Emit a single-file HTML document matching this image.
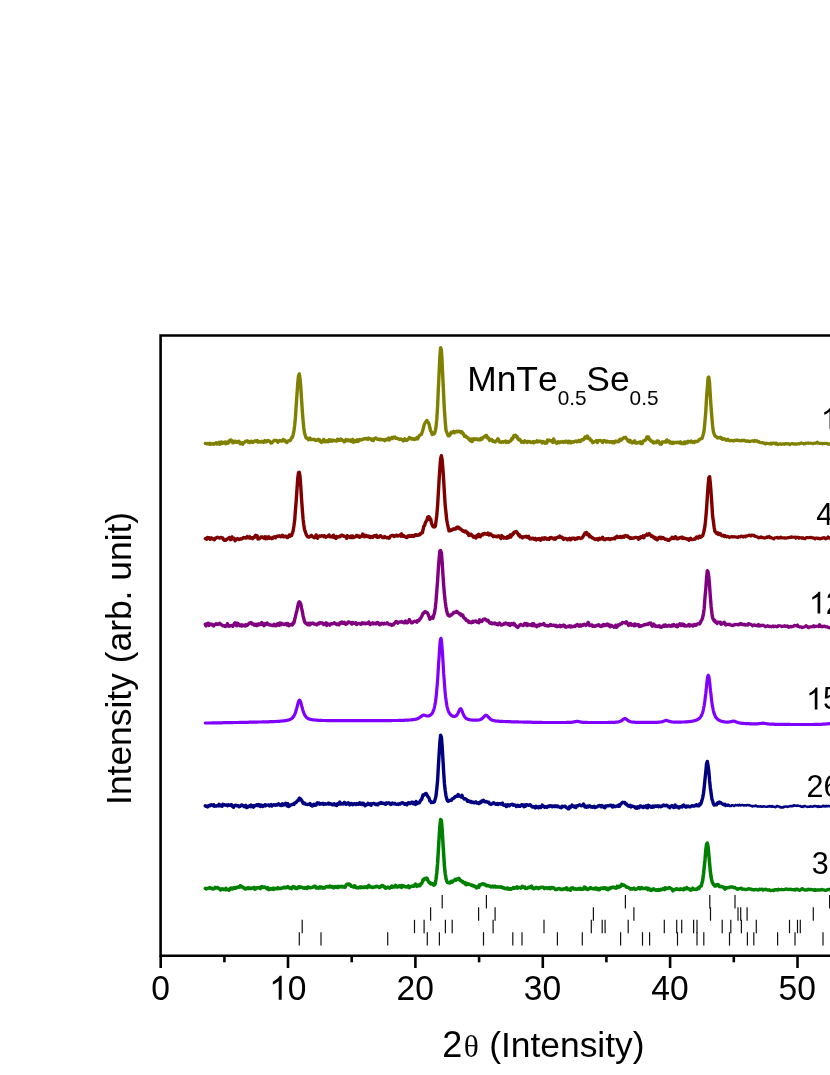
<!DOCTYPE html>
<html><head><meta charset="utf-8"><title>XRD</title>
<style>
html,body{margin:0;padding:0;background:#fff;}
body{width:830px;height:1075px;overflow:hidden;position:relative;font-family:"Liberation Sans",sans-serif;}
svg{position:absolute;left:0;top:0;will-change:transform;}
text{font-family:"Liberation Sans",sans-serif;fill:#000;font-kerning:none;}
.th{font-family:"Liberation Serif",serif;}
</style></head><body>
<svg width="830" height="1075" viewBox="0 0 830 1075">
<rect x="0" y="0" width="830" height="1075" fill="#fff"/>
<g fill="none" stroke-width="3.3" stroke-linejoin="round" stroke-linecap="round">
<polyline stroke="#808000" stroke-width="3.4" points="205.3,443.5 206.0,443.5 206.8,443.8 207.6,443.5 208.3,443.9 209.1,444.0 209.9,443.2 210.6,444.3 211.4,443.8 212.1,443.7 212.9,444.1 213.7,444.2 214.4,443.7 215.2,443.9 216.0,442.7 216.7,444.1 217.5,443.9 218.3,443.3 219.0,442.4 219.8,444.3 220.6,442.4 221.3,442.1 222.1,443.5 222.8,442.4 223.6,442.6 224.4,443.1 225.1,442.0 225.9,443.7 226.7,442.2 227.4,442.1 228.2,443.2 229.0,441.1 229.7,441.7 230.5,439.9 231.3,441.0 232.0,440.8 232.8,442.8 233.5,442.7 234.3,441.2 235.1,442.0 235.8,441.4 236.6,442.5 237.4,442.2 238.1,441.7 238.9,441.2 239.7,442.6 240.4,443.8 241.2,443.1 241.9,442.7 242.7,444.3 243.5,442.8 244.2,442.4 245.0,441.8 245.8,441.3 246.5,441.4 247.3,440.7 248.1,442.0 248.8,441.7 249.6,442.6 250.4,441.6 251.1,441.2 251.9,441.5 252.6,442.5 253.4,442.0 254.2,441.2 254.9,441.0 255.7,441.2 256.5,440.8 257.2,440.5 258.0,442.3 258.8,441.5 259.5,441.7 260.3,442.0 261.1,441.9 261.8,441.2 262.6,441.9 263.3,442.3 264.1,442.1 264.9,440.6 265.6,441.8 266.4,441.7 267.2,441.2 267.9,440.5 268.7,440.9 269.5,441.2 270.2,442.0 271.0,443.1 271.7,443.0 272.5,442.0 273.3,441.3 274.0,440.6 274.8,440.3 275.6,440.6 276.3,440.4 277.1,441.0 277.9,442.3 278.6,441.4 279.4,440.5 280.2,440.8 280.9,440.6 281.7,441.1 282.4,441.1 283.2,439.4 284.0,440.2 284.7,440.2 285.5,441.7 286.3,441.4 287.0,442.5 287.8,441.1 288.6,440.8 289.3,440.8 290.1,440.6 290.9,439.3 291.6,437.6 292.4,437.3 293.1,434.9 293.9,431.1 294.7,425.2 295.4,417.7 296.2,405.7 297.0,394.1 297.7,383.7 298.5,376.0 299.3,373.9 300.0,378.5 300.8,387.3 301.5,398.6 302.3,410.9 303.1,420.8 303.8,427.9 304.6,433.2 305.4,435.8 306.1,437.9 306.9,438.3 307.7,438.1 308.4,439.8 309.2,438.9 310.0,438.1 310.7,439.4 311.5,439.1 312.2,439.6 313.0,439.4 313.8,439.4 314.5,439.5 315.3,440.4 316.1,440.5 316.8,439.9 317.6,440.0 318.4,439.2 319.1,440.7 319.9,440.1 320.7,441.6 321.4,442.5 322.2,441.7 322.9,441.8 323.7,439.4 324.5,440.8 325.2,441.8 326.0,441.8 326.8,440.7 327.5,441.6 328.3,441.7 329.1,439.7 329.8,440.7 330.6,441.3 331.3,440.0 332.1,441.1 332.9,440.3 333.6,440.2 334.4,440.8 335.2,440.8 335.9,440.5 336.7,441.0 337.5,439.3 338.2,439.5 339.0,440.4 339.8,440.2 340.5,439.0 341.3,440.1 342.0,439.7 342.8,440.7 343.6,440.6 344.3,441.8 345.1,441.4 345.9,439.6 346.6,439.8 347.4,440.6 348.2,439.7 348.9,440.8 349.7,440.7 350.5,440.0 351.2,441.4 352.0,440.4 352.7,439.4 353.5,442.2 354.3,440.4 355.0,441.7 355.8,441.5 356.6,441.2 357.3,439.8 358.1,441.5 358.9,439.9 359.6,439.5 360.4,439.8 361.1,440.1 361.9,439.5 362.7,439.4 363.4,439.1 364.2,438.9 365.0,438.5 365.7,438.9 366.5,439.0 367.3,438.5 368.0,439.2 368.8,438.1 369.6,438.6 370.3,438.9 371.1,439.0 371.8,440.1 372.6,439.3 373.4,440.5 374.1,438.9 374.9,438.3 375.7,437.9 376.4,438.5 377.2,439.2 378.0,439.1 378.7,439.3 379.5,439.8 380.3,439.2 381.0,439.1 381.8,439.7 382.5,439.7 383.3,439.7 384.1,440.2 384.8,440.7 385.6,439.4 386.4,439.2 387.1,439.7 387.9,439.6 388.7,438.0 389.4,439.9 390.2,438.4 390.9,438.5 391.7,437.6 392.5,438.5 393.2,437.3 394.0,437.4 394.8,437.0 395.5,438.3 396.3,438.4 397.1,438.2 397.8,438.8 398.6,438.8 399.4,439.5 400.1,439.1 400.9,439.0 401.6,439.4 402.4,440.0 403.2,440.9 403.9,440.4 404.7,438.8 405.5,440.0 406.2,440.5 407.0,440.2 407.8,439.4 408.5,439.2 409.3,437.5 410.1,438.0 410.8,438.1 411.6,439.0 412.3,439.3 413.1,438.6 413.9,439.2 414.6,439.6 415.4,438.8 416.2,438.7 416.9,437.6 417.7,438.9 418.5,437.2 419.2,435.7 420.0,435.1 420.7,434.8 421.5,434.1 422.3,431.8 423.0,429.5 423.8,426.4 424.6,423.6 425.3,422.6 426.1,421.4 426.9,420.5 427.6,422.0 428.4,422.4 429.2,424.7 429.9,428.0 430.7,431.2 431.4,431.8 432.2,434.4 433.0,433.6 433.7,434.1 434.5,433.5 435.3,430.6 436.0,427.1 436.8,419.2 437.6,406.1 438.3,389.7 439.1,373.2 439.9,356.1 440.6,347.7 441.4,350.3 442.1,361.1 442.9,379.4 443.7,396.0 444.4,410.1 445.2,421.1 446.0,430.4 446.7,432.2 447.5,434.1 448.3,435.9 449.0,435.9 449.8,435.2 450.5,433.6 451.3,432.2 452.1,432.9 452.8,432.4 453.6,431.4 454.4,432.7 455.1,432.2 455.9,431.4 456.7,431.3 457.4,431.8 458.2,431.3 459.0,431.1 459.7,431.9 460.5,431.6 461.2,432.7 462.0,431.9 462.8,433.5 463.5,434.0 464.3,436.2 465.1,435.7 465.8,436.0 466.6,437.2 467.4,437.7 468.1,437.9 468.9,439.3 469.7,440.0 470.4,440.7 471.2,439.1 471.9,441.5 472.7,441.0 473.5,438.9 474.2,438.6 475.0,439.4 475.8,439.5 476.5,438.7 477.3,439.5 478.1,439.8 478.8,439.1 479.6,439.8 480.3,439.8 481.1,438.4 481.9,439.1 482.6,438.0 483.4,437.1 484.2,437.0 484.9,436.3 485.7,435.6 486.5,435.4 487.2,437.7 488.0,437.4 488.8,438.7 489.5,440.4 490.3,439.9 491.0,439.4 491.8,439.7 492.6,441.3 493.3,440.8 494.1,441.7 494.9,442.0 495.6,441.5 496.4,440.7 497.2,439.8 497.9,438.8 498.7,440.0 499.5,441.9 500.2,442.2 501.0,442.4 501.7,441.9 502.5,441.8 503.3,442.2 504.0,441.6 504.8,441.8 505.6,441.0 506.3,442.4 507.1,441.6 507.9,442.0 508.6,442.3 509.4,441.5 510.1,441.0 510.9,440.8 511.7,438.5 512.4,439.1 513.2,437.5 514.0,435.5 514.7,436.8 515.5,435.2 516.3,436.4 517.0,436.4 517.8,438.8 518.6,439.7 519.3,439.2 520.1,439.7 520.8,441.0 521.6,442.2 522.4,441.7 523.1,441.9 523.9,442.4 524.7,440.7 525.4,441.7 526.2,441.5 527.0,442.4 527.7,441.5 528.5,441.5 529.3,441.9 530.0,441.6 530.8,442.5 531.5,442.4 532.3,442.2 533.1,441.6 533.8,442.8 534.6,441.7 535.4,442.1 536.1,442.1 536.9,440.8 537.7,441.7 538.4,441.8 539.2,441.2 539.9,441.1 540.7,441.4 541.5,442.2 542.2,443.0 543.0,441.6 543.8,442.5 544.5,442.0 545.3,443.2 546.1,442.6 546.8,443.0 547.6,440.0 548.4,440.7 549.1,440.3 549.9,440.3 550.6,440.8 551.4,440.8 552.2,441.9 552.9,442.5 553.7,439.0 554.5,441.4 555.2,441.8 556.0,442.7 556.8,443.3 557.5,442.0 558.3,441.7 559.1,442.8 559.8,442.5 560.6,441.8 561.3,442.0 562.1,442.0 562.9,441.6 563.6,442.3 564.4,441.9 565.2,441.3 565.9,442.2 566.7,441.2 567.5,442.3 568.2,442.7 569.0,441.3 569.7,442.5 570.5,441.6 571.3,442.8 572.0,442.2 572.8,441.7 573.6,442.1 574.3,441.4 575.1,441.4 575.9,441.0 576.6,441.7 577.4,441.2 578.2,441.5 578.9,440.4 579.7,441.3 580.4,441.5 581.2,440.2 582.0,439.4 582.7,439.9 583.5,439.6 584.3,438.6 585.0,436.9 585.8,436.9 586.6,437.9 587.3,436.0 588.1,438.3 588.9,438.5 589.6,438.3 590.4,440.2 591.1,439.9 591.9,441.3 592.7,442.6 593.4,442.2 594.2,442.0 595.0,441.4 595.7,441.4 596.5,440.5 597.3,442.5 598.0,441.4 598.8,440.5 599.5,440.6 600.3,440.5 601.1,440.9 601.8,440.9 602.6,442.6 603.4,441.0 604.1,440.6 604.9,440.7 605.7,441.6 606.4,442.1 607.2,441.2 608.0,441.8 608.7,441.6 609.5,442.2 610.2,441.8 611.0,441.7 611.8,442.0 612.5,442.6 613.3,441.6 614.1,442.8 614.8,441.7 615.6,441.0 616.4,441.7 617.1,441.2 617.9,441.6 618.7,441.8 619.4,439.8 620.2,439.3 620.9,440.3 621.7,439.1 622.5,439.0 623.2,438.3 624.0,437.5 624.8,437.8 625.5,437.3 626.3,438.7 627.1,439.2 627.8,440.5 628.6,441.4 629.3,441.9 630.1,440.3 630.9,441.6 631.6,442.6 632.4,443.1 633.2,442.0 633.9,441.4 634.7,440.8 635.5,443.0 636.2,442.4 637.0,443.1 637.8,442.5 638.5,442.6 639.3,442.3 640.0,441.9 640.8,443.4 641.6,442.6 642.3,443.5 643.1,441.1 643.9,440.7 644.6,440.6 645.4,440.2 646.2,438.8 646.9,436.9 647.7,437.0 648.5,437.0 649.2,439.4 650.0,439.5 650.7,441.0 651.5,441.0 652.3,441.1 653.0,442.5 653.8,443.0 654.6,442.3 655.3,442.4 656.1,442.6 656.9,441.1 657.6,442.1 658.4,441.0 659.1,442.1 659.9,444.0 660.7,443.4 661.4,444.1 662.2,442.0 663.0,441.9 663.7,442.0 664.5,442.0 665.3,441.6 666.0,442.1 666.8,439.9 667.6,441.0 668.3,441.7 669.1,441.1 669.8,442.7 670.6,442.3 671.4,443.3 672.1,442.4 672.9,443.4 673.7,442.3 674.4,442.9 675.2,442.4 676.0,442.5 676.7,442.7 677.5,442.5 678.3,442.2 679.0,442.8 679.8,443.0 680.5,441.9 681.3,443.6 682.1,443.6 682.8,443.0 683.6,443.5 684.4,441.9 685.1,443.6 685.9,442.0 686.7,442.0 687.4,442.7 688.2,441.2 688.9,442.0 689.7,441.7 690.5,442.1 691.2,441.0 692.0,441.6 692.8,442.4 693.5,441.8 694.3,442.5 695.1,441.3 695.8,441.5 696.6,441.6 697.4,441.5 698.1,440.9 698.9,440.1 699.6,439.5 700.4,439.0 701.2,438.6 701.9,438.6 702.7,436.3 703.5,433.4 704.2,429.9 705.0,421.2 705.8,411.3 706.5,398.7 707.3,388.3 708.1,377.9 708.8,377.0 709.6,383.4 710.3,395.8 711.1,407.6 711.9,417.9 712.6,425.5 713.4,431.7 714.2,434.1 714.9,435.7 715.7,436.3 716.5,436.9 717.2,437.9 718.0,437.6 718.7,437.8 719.5,437.9 720.3,437.2 721.0,438.6 721.8,438.0 722.6,439.3 723.3,439.0 724.1,438.9 724.9,438.9 725.6,439.8 726.4,440.2"/>
<polyline stroke="#808000" stroke-width="3.15" points="726.4,440.2 727.2,439.9 727.9,439.1 728.7,440.4 729.4,440.3 730.2,440.8 731.0,440.5 731.7,440.3 732.5,440.7 733.3,441.1 734.0,440.4 734.8,440.6 735.6,440.2 736.3,440.4 737.1,439.9 737.9,440.7 738.6,440.4 739.4,440.6 740.1,440.8 740.9,440.8 741.7,440.1 742.4,440.8 743.2,440.7 744.0,440.1 744.7,440.8 745.5,440.7 746.3,441.5 747.0,441.1 747.8,440.9 748.5,441.4 749.3,441.7 750.1,441.2 750.8,441.4 751.6,441.1 752.4,440.7 753.1,440.9 753.9,441.5 754.7,440.3 755.4,441.1 756.2,440.7 757.0,440.9 757.7,441.8 758.5,441.4 759.2,441.9 760.0,442.7 760.8,442.7 761.5,442.7 762.3,442.5 763.1,442.8 763.8,443.5 764.6,443.1 765.4,444.0 766.1,443.5 766.9,443.2 767.7,443.4 768.4,443.6 769.2,443.8 769.9,443.6 770.7,443.1 771.5,444.2 772.2,443.3 773.0,443.0 773.8,443.3 774.5,443.4 775.3,444.0 776.1,443.0 776.8,443.4 777.6,444.7 778.3,444.2 779.1,444.1 779.9,443.7 780.6,443.7 781.4,444.5 782.2,444.0 782.9,443.9 783.7,443.9 784.5,444.4 785.2,443.5 786.0,443.8 786.8,443.6 787.5,443.9 788.3,443.7 789.0,444.1 789.8,444.7 790.6,443.9 791.3,443.7 792.1,443.5 792.9,443.9 793.6,443.9 794.4,444.1 795.2,444.3 795.9,443.8 796.7,444.2 797.5,443.9 798.2,443.6 799.0,443.7 799.7,443.9 800.5,443.2 801.3,442.9 802.0,443.3 802.8,443.4 803.6,443.9 804.3,443.6 805.1,443.9 805.9,443.1 806.6,443.2 807.4,443.2 808.1,442.8 808.9,443.3 809.7,443.2 810.4,443.1 811.2,443.2 812.0,443.3 812.7,443.7 813.5,443.4 814.3,443.2 815.0,443.1 815.8,443.1 816.6,442.9 817.3,442.2 818.1,443.2 818.8,443.3 819.6,443.4 820.4,443.5 821.1,443.4 821.9,443.3 822.7,443.8 823.4,443.6 824.2,443.3 825.0,443.4 825.7,443.5 826.5,443.5 827.2,443.4 828.0,444.2 828.8,444.3 829.5,444.2 830.3,443.5 831.1,443.4 831.8,442.8 832.6,443.2 833.4,442.3 834.1,442.8 834.9,443.1 835.7,443.7 836.4,443.7 837.2,443.1 837.9,442.9"/>
<polyline stroke="#800000" stroke-width="3.4" points="205.3,538.7 206.0,538.4 206.8,539.1 207.6,537.5 208.3,537.9 209.1,537.8 209.9,539.2 210.6,539.1 211.4,537.9 212.1,538.8 212.9,538.6 213.7,539.5 214.4,539.8 215.2,538.1 216.0,538.2 216.7,537.6 217.5,537.3 218.3,537.7 219.0,537.9 219.8,538.0 220.6,537.4 221.3,537.6 222.1,537.9 222.8,537.9 223.6,539.7 224.4,540.3 225.1,540.2 225.9,540.2 226.7,539.1 227.4,539.0 228.2,538.6 229.0,537.6 229.7,537.5 230.5,539.7 231.3,539.3 232.0,536.9 232.8,538.9 233.5,539.1 234.3,538.4 235.1,540.8 235.8,539.8 236.6,539.5 237.4,538.5 238.1,539.1 238.9,539.5 239.7,539.4 240.4,538.8 241.2,539.1 241.9,538.7 242.7,538.2 243.5,537.4 244.2,537.8 245.0,537.8 245.8,538.1 246.5,537.4 247.3,536.5 248.1,537.9 248.8,537.7 249.6,536.7 250.4,538.1 251.1,537.7 251.9,537.7 252.6,538.6 253.4,537.4 254.2,537.6 254.9,536.1 255.7,535.2 256.5,536.6 257.2,535.9 258.0,539.0 258.8,538.7 259.5,538.7 260.3,537.8 261.1,537.0 261.8,537.2 262.6,537.0 263.3,537.7 264.1,538.2 264.9,536.7 265.6,538.8 266.4,537.0 267.2,538.5 267.9,538.0 268.7,536.7 269.5,538.2 270.2,538.0 271.0,538.1 271.7,538.6 272.5,537.6 273.3,537.9 274.0,537.0 274.8,536.8 275.6,537.7 276.3,536.6 277.1,536.2 277.9,536.2 278.6,536.1 279.4,535.7 280.2,536.6 280.9,536.7 281.7,536.5 282.4,535.2 283.2,536.6 284.0,536.9 284.7,536.4 285.5,536.1 286.3,536.5 287.0,537.5 287.8,537.6 288.6,536.5 289.3,534.9 290.1,536.2 290.9,535.5 291.6,535.6 292.4,533.1 293.1,530.9 293.9,526.0 294.7,520.3 295.4,510.6 296.2,501.1 297.0,488.9 297.7,478.6 298.5,472.8 299.3,472.3 300.0,476.2 300.8,486.9 301.5,498.4 302.3,509.3 303.1,519.4 303.8,524.8 304.6,529.9 305.4,531.9 306.1,534.2 306.9,535.9 307.7,536.7 308.4,537.1 309.2,537.0 310.0,536.1 310.7,536.2 311.5,535.4 312.2,536.4 313.0,536.8 313.8,537.5 314.5,537.7 315.3,537.0 316.1,534.9 316.8,536.5 317.6,538.3 318.4,536.8 319.1,536.2 319.9,535.9 320.7,536.3 321.4,535.7 322.2,536.0 322.9,535.8 323.7,536.6 324.5,535.7 325.2,536.7 326.0,537.3 326.8,536.6 327.5,536.1 328.3,535.5 329.1,535.1 329.8,536.8 330.6,536.6 331.3,536.7 332.1,537.1 332.9,535.6 333.6,535.3 334.4,537.5 335.2,536.7 335.9,538.5 336.7,536.6 337.5,537.1 338.2,536.8 339.0,536.8 339.8,536.7 340.5,535.7 341.3,535.8 342.0,535.1 342.8,535.9 343.6,535.8 344.3,536.4 345.1,536.5 345.9,536.5 346.6,538.3 347.4,535.7 348.2,536.4 348.9,537.0 349.7,536.7 350.5,537.4 351.2,536.0 352.0,537.4 352.7,536.1 353.5,537.5 354.3,537.2 355.0,536.9 355.8,536.7 356.6,535.4 357.3,535.5 358.1,536.6 358.9,536.1 359.6,537.3 360.4,536.4 361.1,536.5 361.9,536.2 362.7,534.0 363.4,535.6 364.2,536.6 365.0,535.2 365.7,536.4 366.5,535.6 367.3,536.5 368.0,536.4 368.8,536.1 369.6,537.3 370.3,537.5 371.1,536.4 371.8,536.8 372.6,537.4 373.4,536.3 374.1,535.6 374.9,535.8 375.7,536.5 376.4,535.3 377.2,537.3 378.0,537.0 378.7,537.2 379.5,536.2 380.3,535.7 381.0,536.2 381.8,536.9 382.5,537.6 383.3,537.0 384.1,537.6 384.8,536.6 385.6,537.4 386.4,537.5 387.1,537.9 387.9,537.5 388.7,538.2 389.4,538.1 390.2,536.4 390.9,535.8 391.7,535.5 392.5,535.7 393.2,535.5 394.0,536.4 394.8,536.0 395.5,536.0 396.3,535.1 397.1,535.3 397.8,536.0 398.6,535.6 399.4,535.5 400.1,534.7 400.9,536.1 401.6,533.8 402.4,536.3 403.2,536.4 403.9,535.8 404.7,536.6 405.5,536.9 406.2,537.4 407.0,537.6 407.8,536.0 408.5,536.5 409.3,535.6 410.1,536.4 410.8,536.3 411.6,535.5 412.3,536.3 413.1,535.6 413.9,536.4 414.6,535.6 415.4,534.7 416.2,534.8 416.9,535.4 417.7,535.4 418.5,535.2 419.2,534.2 420.0,534.6 420.7,533.4 421.5,533.0 422.3,532.9 423.0,530.0 423.8,526.4 424.6,525.5 425.3,522.9 426.1,521.4 426.9,520.3 427.6,517.4 428.4,516.7 429.2,516.9 429.9,519.7 430.7,518.9 431.4,522.8 432.2,525.0 433.0,526.6 433.7,526.9 434.5,527.0 435.3,526.3 436.0,521.4 436.8,515.2 437.6,505.6 438.3,493.7 439.1,479.8 439.9,467.9 440.6,459.0 441.4,455.7 442.1,459.6 442.9,468.9 443.7,480.9 444.4,492.8 445.2,505.5 446.0,512.8 446.7,519.8 447.5,524.0 448.3,527.6 449.0,530.8 449.8,530.9 450.5,530.0 451.3,530.3 452.1,529.8 452.8,529.0 453.6,529.3 454.4,528.7 455.1,529.1 455.9,528.8 456.7,527.4 457.4,527.9 458.2,527.0 459.0,527.6 459.7,528.9 460.5,528.7 461.2,529.4 462.0,530.3 462.8,531.1 463.5,530.7 464.3,531.9 465.1,531.7 465.8,531.1 466.6,531.9 467.4,533.5 468.1,533.1 468.9,535.6 469.7,534.0 470.4,535.0 471.2,534.3 471.9,535.8 472.7,535.8 473.5,537.1 474.2,536.7 475.0,536.3 475.8,538.1 476.5,536.6 477.3,535.4 478.1,536.6 478.8,534.3 479.6,535.5 480.3,536.7 481.1,535.2 481.9,535.0 482.6,534.0 483.4,534.6 484.2,533.4 484.9,533.4 485.7,534.0 486.5,534.2 487.2,534.1 488.0,533.1 488.8,535.0 489.5,534.8 490.3,534.0 491.0,534.2 491.8,535.3 492.6,535.8 493.3,536.5 494.1,536.0 494.9,536.3 495.6,536.5 496.4,536.2 497.2,536.8 497.9,536.3 498.7,535.8 499.5,536.7 500.2,537.3 501.0,538.5 501.7,535.6 502.5,536.8 503.3,536.8 504.0,538.1 504.8,537.7 505.6,538.0 506.3,538.3 507.1,536.9 507.9,536.6 508.6,537.7 509.4,537.0 510.1,535.0 510.9,537.1 511.7,534.6 512.4,535.0 513.2,533.9 514.0,532.4 514.7,531.9 515.5,532.1 516.3,531.5 517.0,532.6 517.8,533.7 518.6,535.2 519.3,534.7 520.1,536.8 520.8,536.2 521.6,537.1 522.4,537.9 523.1,536.8 523.9,537.0 524.7,536.7 525.4,536.6 526.2,536.2 527.0,537.4 527.7,537.1 528.5,536.3 529.3,538.0 530.0,538.9 530.8,538.4 531.5,538.8 532.3,538.3 533.1,538.3 533.8,539.1 534.6,539.2 535.4,538.4 536.1,539.9 536.9,539.5 537.7,538.8 538.4,539.4 539.2,538.6 539.9,539.5 540.7,540.2 541.5,538.4 542.2,538.0 543.0,538.9 543.8,539.2 544.5,537.8 545.3,538.0 546.1,538.2 546.8,539.2 547.6,538.8 548.4,538.6 549.1,539.4 549.9,537.8 550.6,538.0 551.4,537.4 552.2,538.2 552.9,538.7 553.7,539.0 554.5,538.0 555.2,539.3 556.0,537.9 556.8,537.8 557.5,537.5 558.3,537.0 559.1,537.2 559.8,536.1 560.6,536.9 561.3,537.5 562.1,537.2 562.9,538.5 563.6,539.4 564.4,538.4 565.2,538.6 565.9,538.5 566.7,539.1 567.5,539.8 568.2,538.8 569.0,539.1 569.7,538.4 570.5,539.8 571.3,539.5 572.0,538.3 572.8,538.4 573.6,538.2 574.3,538.3 575.1,539.4 575.9,538.7 576.6,538.3 577.4,538.7 578.2,537.6 578.9,537.8 579.7,537.9 580.4,538.5 581.2,538.1 582.0,538.0 582.7,536.9 583.5,535.8 584.3,534.4 585.0,532.9 585.8,533.4 586.6,532.5 587.3,534.7 588.1,534.1 588.9,534.4 589.6,536.8 590.4,536.1 591.1,536.8 591.9,537.7 592.7,537.7 593.4,538.4 594.2,538.8 595.0,539.4 595.7,539.0 596.5,539.2 597.3,538.8 598.0,539.9 598.8,539.5 599.5,538.2 600.3,539.0 601.1,538.8 601.8,538.2 602.6,537.3 603.4,539.4 604.1,538.7 604.9,539.7 605.7,539.2 606.4,538.8 607.2,538.7 608.0,539.1 608.7,538.5 609.5,539.4 610.2,539.6 611.0,538.8 611.8,538.9 612.5,538.8 613.3,538.6 614.1,538.0 614.8,538.7 615.6,537.2 616.4,537.6 617.1,536.3 617.9,537.3 618.7,537.1 619.4,537.3 620.2,536.5 620.9,537.3 621.7,537.6 622.5,536.5 623.2,536.3 624.0,537.2 624.8,535.8 625.5,535.5 626.3,536.2 627.1,535.9 627.8,536.0 628.6,537.4 629.3,537.5 630.1,538.5 630.9,537.7 631.6,538.4 632.4,538.3 633.2,537.9 633.9,538.0 634.7,537.6 635.5,537.5 636.2,537.4 637.0,537.6 637.8,537.6 638.5,539.2 639.3,537.6 640.0,538.3 640.8,536.7 641.6,537.5 642.3,537.2 643.1,535.9 643.9,537.7 644.6,535.7 645.4,535.5 646.2,535.2 646.9,534.1 647.7,535.2 648.5,534.4 649.2,533.5 650.0,534.7 650.7,535.3 651.5,536.4 652.3,535.9 653.0,536.6 653.8,537.8 654.6,537.3 655.3,538.8 656.1,538.1 656.9,539.7 657.6,539.7 658.4,537.8 659.1,537.3 659.9,537.1 660.7,538.5 661.4,537.4 662.2,538.5 663.0,537.6 663.7,538.3 664.5,538.8 665.3,539.3 666.0,539.1 666.8,539.1 667.6,540.1 668.3,540.4 669.1,540.3 669.8,539.3 670.6,538.7 671.4,538.8 672.1,537.3 672.9,538.2 673.7,538.6 674.4,537.9 675.2,536.7 676.0,537.0 676.7,538.8 677.5,538.3 678.3,538.8 679.0,538.2 679.8,537.6 680.5,537.5 681.3,537.9 682.1,537.1 682.8,538.5 683.6,537.9 684.4,538.2 685.1,538.5 685.9,538.6 686.7,539.0 687.4,539.2 688.2,539.0 688.9,540.2 689.7,538.9 690.5,538.2 691.2,539.3 692.0,539.6 692.8,539.4 693.5,539.2 694.3,539.1 695.1,539.1 695.8,537.9 696.6,537.0 697.4,537.1 698.1,538.1 698.9,537.0 699.6,536.1 700.4,537.3 701.2,536.8 701.9,536.3 702.7,535.7 703.5,532.9 704.2,530.2 705.0,525.6 705.8,517.8 706.5,509.4 707.3,497.3 708.1,485.7 708.8,478.0 709.6,476.7 710.3,483.0 711.1,493.1 711.9,504.8 712.6,516.0 713.4,521.5 714.2,527.7 714.9,531.4 715.7,532.2 716.5,533.4 717.2,533.7 718.0,532.8 718.7,534.6 719.5,533.6 720.3,533.6 721.0,534.8 721.8,535.7 722.6,535.4 723.3,535.5 724.1,536.4 724.9,535.6 725.6,536.1 726.4,536.6"/>
<polyline stroke="#800000" stroke-width="3.15" points="726.4,536.6 727.2,536.3 727.9,536.6 728.7,536.8 729.4,537.5 730.2,536.8 731.0,536.9 731.7,536.5 732.5,536.7 733.3,537.0 734.0,536.7 734.8,536.8 735.6,536.9 736.3,537.0 737.1,537.3 737.9,537.6 738.6,536.7 739.4,536.9 740.1,537.0 740.9,536.1 741.7,536.3 742.4,536.3 743.2,537.0 744.0,536.2 744.7,536.5 745.5,536.9 746.3,535.8 747.0,535.8 747.8,535.9 748.5,535.6 749.3,535.0 750.1,535.5 750.8,536.1 751.6,535.0 752.4,535.4 753.1,535.2 753.9,535.3 754.7,536.3 755.4,536.2 756.2,536.6 757.0,536.8 757.7,537.1 758.5,537.8 759.2,537.4 760.0,537.7 760.8,536.9 761.5,537.6 762.3,537.4 763.1,537.5 763.8,537.9 764.6,538.2 765.4,537.7 766.1,537.6 766.9,536.8 767.7,537.4 768.4,537.1 769.2,536.5 769.9,537.6 770.7,537.3 771.5,538.0 772.2,538.1 773.0,538.3 773.8,538.8 774.5,538.1 775.3,537.7 776.1,537.7 776.8,537.5 777.6,537.3 778.3,538.1 779.1,537.9 779.9,537.9 780.6,537.1 781.4,537.7 782.2,538.0 782.9,537.8 783.7,537.8 784.5,538.2 785.2,537.8 786.0,538.2 786.8,537.9 787.5,537.7 788.3,537.8 789.0,537.5 789.8,537.3 790.6,537.5 791.3,536.9 792.1,537.1 792.9,537.3 793.6,537.2 794.4,537.2 795.2,537.0 795.9,538.2 796.7,537.4 797.5,537.2 798.2,537.2 799.0,538.3 799.7,537.6 800.5,537.7 801.3,537.8 802.0,538.4 802.8,537.7 803.6,538.5 804.3,538.5 805.1,538.7 805.9,537.7 806.6,537.6 807.4,537.5 808.1,537.7 808.9,537.7 809.7,537.3 810.4,537.7 811.2,537.3 812.0,537.8 812.7,537.9 813.5,537.8 814.3,538.4 815.0,538.8 815.8,538.0 816.6,538.0 817.3,538.1 818.1,538.6 818.8,538.2 819.6,538.8 820.4,538.9 821.1,538.6 821.9,538.1 822.7,538.1 823.4,537.7 824.2,537.5 825.0,538.6 825.7,538.9 826.5,538.6 827.2,538.2 828.0,536.9 828.8,538.0 829.5,538.2 830.3,537.6 831.1,538.0 831.8,537.1 832.6,537.6 833.4,537.8 834.1,537.8 834.9,537.5 835.7,538.0 836.4,537.8 837.2,537.3 837.9,536.7"/>
<polyline stroke="#800080" stroke-width="3.4" points="205.3,624.4 206.0,625.9 206.8,623.6 207.6,623.5 208.3,623.2 209.1,625.4 209.9,624.5 210.6,624.1 211.4,624.7 212.1,624.2 212.9,625.0 213.7,625.9 214.4,624.8 215.2,624.6 216.0,623.8 216.7,624.0 217.5,624.4 218.3,624.0 219.0,624.1 219.8,623.3 220.6,624.2 221.3,624.6 222.1,625.3 222.8,625.7 223.6,625.7 224.4,625.7 225.1,626.5 225.9,625.8 226.7,626.1 227.4,623.7 228.2,625.3 229.0,626.3 229.7,625.9 230.5,625.9 231.3,625.5 232.0,625.6 232.8,626.3 233.5,625.0 234.3,623.6 235.1,622.9 235.8,624.7 236.6,625.8 237.4,623.2 238.1,623.6 238.9,624.4 239.7,625.6 240.4,625.8 241.2,624.8 241.9,626.0 242.7,625.0 243.5,625.5 244.2,625.2 245.0,626.0 245.8,624.7 246.5,625.5 247.3,625.3 248.1,624.4 248.8,623.8 249.6,623.0 250.4,622.9 251.1,622.5 251.9,624.1 252.6,623.7 253.4,624.2 254.2,625.2 254.9,624.4 255.7,625.2 256.5,624.3 257.2,625.6 258.0,624.4 258.8,623.7 259.5,624.8 260.3,624.0 261.1,624.3 261.8,622.5 262.6,624.4 263.3,624.5 264.1,625.7 264.9,623.7 265.6,624.6 266.4,624.2 267.2,623.0 267.9,623.8 268.7,624.7 269.5,624.6 270.2,625.0 271.0,625.2 271.7,625.1 272.5,625.6 273.3,625.5 274.0,624.3 274.8,625.5 275.6,625.0 276.3,625.6 277.1,624.0 277.9,624.9 278.6,623.6 279.4,625.2 280.2,623.1 280.9,624.7 281.7,623.4 282.4,623.9 283.2,624.2 284.0,624.5 284.7,624.0 285.5,624.3 286.3,623.5 287.0,625.0 287.8,623.4 288.6,625.7 289.3,625.6 290.1,624.4 290.9,624.8 291.6,624.2 292.4,624.9 293.1,622.8 293.9,623.0 294.7,619.3 295.4,616.7 296.2,613.2 297.0,610.1 297.7,606.6 298.5,603.0 299.3,601.8 300.0,602.5 300.8,604.1 301.5,607.9 302.3,611.4 303.1,615.8 303.8,618.7 304.6,621.8 305.4,623.1 306.1,622.9 306.9,624.2 307.7,623.6 308.4,624.8 309.2,623.3 310.0,624.8 310.7,623.3 311.5,623.4 312.2,623.5 313.0,623.1 313.8,623.8 314.5,624.1 315.3,624.1 316.1,624.2 316.8,624.9 317.6,624.0 318.4,623.3 319.1,623.7 319.9,622.6 320.7,622.8 321.4,623.0 322.2,622.8 322.9,623.6 323.7,624.5 324.5,623.8 325.2,623.6 326.0,622.9 326.8,625.5 327.5,623.5 328.3,624.5 329.1,624.4 329.8,625.1 330.6,623.8 331.3,623.6 332.1,623.8 332.9,623.6 333.6,623.3 334.4,622.7 335.2,623.9 335.9,623.8 336.7,624.6 337.5,624.0 338.2,624.3 339.0,624.8 339.8,623.0 340.5,623.5 341.3,622.1 342.0,622.0 342.8,623.3 343.6,623.1 344.3,622.3 345.1,623.8 345.9,624.3 346.6,623.9 347.4,623.2 348.2,622.0 348.9,622.0 349.7,622.5 350.5,622.7 351.2,623.5 352.0,624.1 352.7,622.4 353.5,623.0 354.3,623.4 355.0,623.1 355.8,622.7 356.6,624.6 357.3,623.7 358.1,623.6 358.9,623.5 359.6,623.7 360.4,624.1 361.1,624.3 361.9,623.0 362.7,622.8 363.4,623.5 364.2,623.3 365.0,623.0 365.7,623.7 366.5,623.3 367.3,623.4 368.0,623.5 368.8,622.0 369.6,623.4 370.3,624.5 371.1,623.5 371.8,623.5 372.6,622.9 373.4,624.0 374.1,623.3 374.9,623.1 375.7,623.9 376.4,623.8 377.2,622.4 378.0,622.6 378.7,623.1 379.5,624.8 380.3,624.6 381.0,623.8 381.8,623.3 382.5,623.6 383.3,624.0 384.1,623.2 384.8,623.5 385.6,623.8 386.4,623.4 387.1,622.7 387.9,623.6 388.7,624.2 389.4,624.6 390.2,624.3 390.9,624.4 391.7,625.4 392.5,624.7 393.2,624.9 394.0,623.5 394.8,623.2 395.5,622.0 396.3,621.5 397.1,622.3 397.8,623.2 398.6,622.3 399.4,621.9 400.1,622.1 400.9,621.8 401.6,621.5 402.4,622.2 403.2,622.1 403.9,622.8 404.7,621.8 405.5,621.0 406.2,622.9 407.0,622.8 407.8,622.5 408.5,621.6 409.3,619.5 410.1,621.3 410.8,621.8 411.6,622.9 412.3,622.8 413.1,622.0 413.9,621.6 414.6,621.3 415.4,621.5 416.2,621.3 416.9,622.1 417.7,620.4 418.5,620.9 419.2,620.1 420.0,618.7 420.7,618.3 421.5,616.8 422.3,615.2 423.0,613.2 423.8,613.0 424.6,612.1 425.3,611.5 426.1,612.2 426.9,612.6 427.6,613.0 428.4,615.3 429.2,616.9 429.9,619.2 430.7,618.0 431.4,618.1 432.2,616.9 433.0,618.2 433.7,615.4 434.5,613.1 435.3,607.8 436.0,601.2 436.8,590.9 437.6,580.6 438.3,569.3 439.1,558.6 439.9,551.0 440.6,550.5 441.4,552.8 442.1,561.5 442.9,574.0 443.7,585.7 444.4,593.9 445.2,601.4 446.0,607.1 446.7,611.0 447.5,613.8 448.3,615.4 449.0,615.9 449.8,616.1 450.5,615.0 451.3,615.1 452.1,614.3 452.8,613.7 453.6,612.6 454.4,612.2 455.1,612.6 455.9,612.4 456.7,611.4 457.4,611.9 458.2,612.8 459.0,613.5 459.7,614.0 460.5,613.8 461.2,615.6 462.0,614.8 462.8,615.1 463.5,617.0 464.3,618.3 465.1,618.4 465.8,619.6 466.6,620.6 467.4,620.5 468.1,621.0 468.9,622.4 469.7,621.9 470.4,622.1 471.2,622.8 471.9,622.4 472.7,621.2 473.5,622.1 474.2,621.4 475.0,621.1 475.8,621.0 476.5,621.4 477.3,622.2 478.1,621.9 478.8,622.8 479.6,619.8 480.3,621.0 481.1,621.2 481.9,621.5 482.6,620.1 483.4,619.3 484.2,619.5 484.9,619.0 485.7,619.5 486.5,620.4 487.2,620.9 488.0,620.4 488.8,621.7 489.5,622.8 490.3,623.3 491.0,622.7 491.8,623.8 492.6,623.3 493.3,623.1 494.1,623.7 494.9,623.0 495.6,623.9 496.4,624.2 497.2,623.9 497.9,624.8 498.7,623.5 499.5,623.1 500.2,623.9 501.0,625.0 501.7,624.8 502.5,624.8 503.3,624.3 504.0,623.5 504.8,624.0 505.6,623.0 506.3,623.5 507.1,623.9 507.9,623.6 508.6,624.8 509.4,623.7 510.1,625.4 510.9,624.4 511.7,623.4 512.4,623.8 513.2,624.8 514.0,623.4 514.7,624.5 515.5,625.4 516.3,626.6 517.0,626.4 517.8,627.5 518.6,626.2 519.3,625.8 520.1,624.7 520.8,624.4 521.6,625.0 522.4,625.1 523.1,625.5 523.9,625.1 524.7,623.6 525.4,624.3 526.2,623.5 527.0,625.6 527.7,624.0 528.5,624.5 529.3,625.1 530.0,624.9 530.8,624.6 531.5,625.4 532.3,623.8 533.1,625.7 533.8,623.8 534.6,625.4 535.4,626.0 536.1,625.6 536.9,626.7 537.7,625.2 538.4,625.1 539.2,625.7 539.9,624.2 540.7,624.8 541.5,624.7 542.2,624.4 543.0,624.6 543.8,623.5 544.5,625.1 545.3,625.4 546.1,625.5 546.8,625.9 547.6,625.5 548.4,626.0 549.1,625.6 549.9,625.6 550.6,624.5 551.4,625.4 552.2,625.2 552.9,625.5 553.7,625.2 554.5,625.5 555.2,625.9 556.0,625.2 556.8,626.6 557.5,626.6 558.3,626.1 559.1,626.3 559.8,625.4 560.6,626.6 561.3,625.7 562.1,626.1 562.9,625.4 563.6,625.1 564.4,625.3 565.2,627.0 565.9,627.3 566.7,626.6 567.5,626.6 568.2,626.3 569.0,626.5 569.7,625.7 570.5,626.9 571.3,626.0 572.0,626.7 572.8,626.6 573.6,626.3 574.3,626.0 575.1,626.5 575.9,625.5 576.6,625.0 577.4,624.6 578.2,625.6 578.9,626.2 579.7,626.1 580.4,624.9 581.2,626.0 582.0,625.6 582.7,624.7 583.5,625.1 584.3,624.3 585.0,624.6 585.8,625.4 586.6,624.8 587.3,624.4 588.1,622.4 588.9,623.8 589.6,625.6 590.4,625.4 591.1,625.1 591.9,624.9 592.7,626.4 593.4,626.2 594.2,626.0 595.0,626.3 595.7,625.8 596.5,625.7 597.3,625.1 598.0,625.6 598.8,624.8 599.5,626.0 600.3,626.1 601.1,626.5 601.8,625.5 602.6,625.9 603.4,624.5 604.1,625.5 604.9,624.8 605.7,625.5 606.4,625.1 607.2,623.9 608.0,624.3 608.7,625.7 609.5,625.3 610.2,626.8 611.0,625.2 611.8,625.6 612.5,626.3 613.3,626.4 614.1,627.2 614.8,626.6 615.6,625.3 616.4,627.3 617.1,627.0 617.9,624.9 618.7,624.9 619.4,625.1 620.2,624.0 620.9,623.9 621.7,623.7 622.5,622.5 623.2,622.6 624.0,622.6 624.8,622.6 625.5,623.1 626.3,621.8 627.1,622.9 627.8,623.8 628.6,625.4 629.3,624.7 630.1,623.4 630.9,623.8 631.6,625.2 632.4,625.1 633.2,624.8 633.9,625.6 634.7,623.9 635.5,625.4 636.2,624.7 637.0,625.1 637.8,624.4 638.5,624.8 639.3,626.4 640.0,625.5 640.8,626.2 641.6,625.8 642.3,625.5 643.1,625.5 643.9,624.8 644.6,624.9 645.4,624.7 646.2,624.3 646.9,624.5 647.7,623.9 648.5,624.2 649.2,623.1 650.0,623.3 650.7,623.0 651.5,625.1 652.3,626.1 653.0,624.7 653.8,624.0 654.6,626.1 655.3,625.5 656.1,626.5 656.9,626.2 657.6,626.5 658.4,626.0 659.1,625.8 659.9,626.9 660.7,626.5 661.4,627.3 662.2,626.3 663.0,626.3 663.7,625.3 664.5,626.3 665.3,625.0 666.0,625.1 666.8,626.3 667.6,626.0 668.3,626.0 669.1,625.3 669.8,625.8 670.6,626.3 671.4,626.1 672.1,625.1 672.9,625.9 673.7,624.5 674.4,625.5 675.2,625.4 676.0,626.2 676.7,625.0 677.5,626.7 678.3,624.9 679.0,625.1 679.8,623.8 680.5,624.2 681.3,625.5 682.1,623.9 682.8,625.2 683.6,624.3 684.4,625.9 685.1,625.3 685.9,626.0 686.7,625.9 687.4,625.9 688.2,625.2 688.9,624.5 689.7,626.0 690.5,625.0 691.2,625.6 692.0,625.0 692.8,626.0 693.5,625.8 694.3,624.7 695.1,624.4 695.8,625.4 696.6,624.5 697.4,623.9 698.1,623.9 698.9,623.4 699.6,623.9 700.4,622.6 701.2,620.6 701.9,619.8 702.7,617.4 703.5,613.3 704.2,608.4 705.0,597.1 705.8,588.8 706.5,578.9 707.3,570.7 708.1,572.0 708.8,576.7 709.6,586.1 710.3,596.1 711.1,606.2 711.9,613.2 712.6,617.7 713.4,619.5 714.2,620.9 714.9,620.4 715.7,622.2 716.5,622.0 717.2,623.4 718.0,622.2 718.7,622.5 719.5,622.5 720.3,622.2 721.0,624.2 721.8,623.0 722.6,623.8 723.3,623.2 724.1,622.2 724.9,623.4 725.6,624.9 726.4,624.6"/>
<polyline stroke="#800080" stroke-width="3.15" points="726.4,624.6 727.2,624.4 727.9,624.2 728.7,624.6 729.4,624.1 730.2,624.9 731.0,624.9 731.7,625.4 732.5,625.4 733.3,625.6 734.0,624.9 734.8,624.3 735.6,624.6 736.3,624.5 737.1,624.4 737.9,624.9 738.6,624.9 739.4,623.8 740.1,624.5 740.9,623.3 741.7,624.3 742.4,624.0 743.2,624.8 744.0,624.2 744.7,624.9 745.5,625.1 746.3,624.7 747.0,624.9 747.8,625.1 748.5,623.6 749.3,623.7 750.1,624.5 750.8,624.3 751.6,624.8 752.4,626.0 753.1,625.3 753.9,624.9 754.7,624.9 755.4,625.5 756.2,625.6 757.0,625.4 757.7,625.8 758.5,624.5 759.2,626.0 760.0,625.2 760.8,625.8 761.5,625.4 762.3,625.2 763.1,625.1 763.8,625.7 764.6,625.7 765.4,626.8 766.1,626.6 766.9,626.1 767.7,625.7 768.4,626.3 769.2,626.7 769.9,626.1 770.7,626.4 771.5,626.9 772.2,626.3 773.0,625.8 773.8,626.8 774.5,626.6 775.3,626.1 776.1,626.2 776.8,626.8 777.6,626.7 778.3,625.7 779.1,625.8 779.9,625.7 780.6,625.9 781.4,626.6 782.2,626.0 782.9,626.5 783.7,626.3 784.5,625.6 785.2,626.5 786.0,626.4 786.8,626.0 787.5,625.9 788.3,626.9 789.0,627.4 789.8,626.7 790.6,626.3 791.3,627.0 792.1,626.6 792.9,626.4 793.6,626.5 794.4,625.3 795.2,625.7 795.9,625.5 796.7,626.0 797.5,625.0 798.2,626.5 799.0,626.5 799.7,627.1 800.5,626.8 801.3,626.9 802.0,627.7 802.8,627.2 803.6,627.1 804.3,627.0 805.1,626.6 805.9,625.7 806.6,626.1 807.4,626.2 808.1,627.7 808.9,627.7 809.7,626.9 810.4,626.7 811.2,626.9 812.0,626.6 812.7,626.6 813.5,625.7 814.3,626.8 815.0,626.2 815.8,626.5 816.6,626.3 817.3,626.2 818.1,625.9 818.8,626.6 819.6,624.6 820.4,626.3 821.1,626.6 821.9,626.2 822.7,626.9 823.4,626.3 824.2,626.1 825.0,626.3 825.7,627.0 826.5,626.9 827.2,626.7 828.0,627.4 828.8,627.5 829.5,627.9 830.3,627.6 831.1,627.8 831.8,627.0 832.6,627.0 833.4,626.7 834.1,627.2 834.9,627.4 835.7,627.6 836.4,627.1 837.2,627.9 837.9,627.1"/>
<polyline stroke="#8000ff" stroke-width="3.2" points="205.3,723.0 205.6,723.0 205.9,723.0 206.2,723.0 206.5,723.0 206.9,723.0 207.2,723.0 207.5,723.0 207.8,723.0 208.1,723.0 208.5,723.0 208.8,723.0 209.1,723.0 209.4,723.0 209.7,723.0 210.0,723.0 210.4,723.0 210.7,723.0 211.0,723.0 211.3,723.0 211.6,722.9 212.0,722.9 212.3,722.9 212.6,722.9 212.9,722.9 213.2,722.9 213.6,722.9 213.9,722.9 214.2,722.9 214.5,722.9 214.8,722.9 215.1,722.9 215.5,722.9 215.8,722.9 216.1,722.9 216.4,722.9 216.7,722.9 217.1,722.8 217.4,722.8 217.7,722.8 218.0,722.8 218.3,722.8 218.6,722.8 219.0,722.8 219.3,722.8 219.6,722.8 219.9,722.8 220.2,722.8 220.6,722.8 220.9,722.8 221.2,722.8 221.5,722.8 221.8,722.8 222.1,722.8 222.5,722.8 222.8,722.7 223.1,722.7 223.4,722.7 223.7,722.7 224.1,722.7 224.4,722.7 224.7,722.7 225.0,722.7 225.3,722.7 225.6,722.7 226.0,722.7 226.3,722.7 226.6,722.7 226.9,722.7 227.2,722.7 227.6,722.7 227.9,722.7 228.2,722.6 228.5,722.6 228.8,722.6 229.2,722.6 229.5,722.6 229.8,722.6 230.1,722.6 230.4,722.6 230.7,722.6 231.1,722.6 231.4,722.6 231.7,722.6 232.0,722.6 232.3,722.6 232.7,722.6 233.0,722.6 233.3,722.6 233.6,722.5 233.9,722.5 234.2,722.5 234.6,722.5 234.9,722.5 235.2,722.5 235.5,722.5 235.8,722.5 236.2,722.5 236.5,722.5 236.8,722.5 237.1,722.5 237.4,722.5 237.7,722.5 238.1,722.5 238.4,722.5 238.7,722.5 239.0,722.4 239.3,722.4 239.7,722.4 240.0,722.4 240.3,722.4 240.6,722.4 240.9,722.4 241.2,722.4 241.6,722.4 241.9,722.4 242.2,722.4 242.5,722.4 242.8,722.4 243.2,722.4 243.5,722.4 243.8,722.4 244.1,722.3 244.4,722.3 244.8,722.3 245.1,722.3 245.4,722.3 245.7,722.3 246.0,722.3 246.3,722.3 246.7,722.3 247.0,722.3 247.3,722.3 247.6,722.3 247.9,722.3 248.3,722.3 248.6,722.3 248.9,722.2 249.2,722.2 249.5,722.2 249.8,722.2 250.2,722.2 250.5,722.2 250.8,722.2 251.1,722.2 251.4,722.2 251.8,722.2 252.1,722.2 252.4,722.2 252.7,722.2 253.0,722.2 253.3,722.2 253.7,722.1 254.0,722.1 254.3,722.1 254.6,722.1 254.9,722.1 255.3,722.1 255.6,722.1 255.9,722.1 256.2,722.1 256.5,722.1 256.8,722.1 257.2,722.1 257.5,722.1 257.8,722.1 258.1,722.0 258.4,722.0 258.8,722.0 259.1,722.0 259.4,722.0 259.7,722.0 260.0,722.0 260.4,722.0 260.7,722.0 261.0,722.0 261.3,722.0 261.6,722.0 261.9,722.0 262.3,721.9 262.6,721.9 262.9,721.9 263.2,721.9 263.5,721.9 263.9,721.9 264.2,721.9 264.5,721.9 264.8,721.9 265.1,721.9 265.4,721.9 265.8,721.9 266.1,721.8 266.4,721.8 266.7,721.8 267.0,721.8 267.4,721.8 267.7,721.8 268.0,721.8 268.3,721.8 268.6,721.8 268.9,721.8 269.3,721.8 269.6,721.7 269.9,721.7 270.2,721.7 270.5,721.7 270.9,721.7 271.2,721.7 271.5,721.7 271.8,721.7 272.1,721.7 272.4,721.6 272.8,721.6 273.1,721.6 273.4,721.6 273.7,721.6 274.0,721.6 274.4,721.6 274.7,721.5 275.0,721.5 275.3,721.5 275.6,721.5 276.0,721.5 276.3,721.5 276.6,721.4 276.9,721.4 277.2,721.4 277.5,721.4 277.9,721.4 278.2,721.4 278.5,721.3 278.8,721.3 279.1,721.3 279.5,721.3 279.8,721.2 280.1,721.2 280.4,721.2 280.7,721.2 281.0,721.1 281.4,721.1 281.7,721.1 282.0,721.0 282.3,721.0 282.6,721.0 283.0,720.9 283.3,720.9 283.6,720.9 283.9,720.8 284.2,720.8 284.5,720.8 284.9,720.7 285.2,720.7 285.5,720.6 285.8,720.6 286.1,720.5 286.5,720.4 286.8,720.4 287.1,720.3 287.4,720.2 287.7,720.2 288.0,720.1 288.4,720.0 288.7,719.9 289.0,719.8 289.3,719.7 289.6,719.6 290.0,719.5 290.3,719.3 290.6,719.2 290.9,719.0 291.2,718.8 291.6,718.6 291.9,718.4 292.2,718.1 292.5,717.8 292.8,717.5 293.1,717.1 293.5,716.6 293.8,716.2 294.1,715.6 294.4,715.0 294.7,714.3 295.1,713.6 295.4,712.7 295.7,711.8 296.0,710.8 296.3,709.7 296.6,708.6 297.0,707.4 297.3,706.2 297.6,704.9 297.9,703.7 298.2,702.6 298.6,701.6 298.9,700.9 299.2,700.4 299.5,700.2 299.8,700.4 300.1,700.8 300.5,701.6 300.8,702.5 301.1,703.6 301.4,704.8 301.7,706.0 302.1,707.3 302.4,708.4 302.7,709.6 303.0,710.6 303.3,711.6 303.7,712.5 304.0,713.3 304.3,714.1 304.6,714.7 304.9,715.3 305.2,715.8 305.6,716.3 305.9,716.7 306.2,717.1 306.5,717.4 306.8,717.7 307.2,717.9 307.5,718.2 307.8,718.4 308.1,718.5 308.4,718.7 308.7,718.8 309.1,719.0 309.4,719.1 309.7,719.2 310.0,719.3 310.3,719.3 310.7,719.4 311.0,719.5 311.3,719.5 311.6,719.6 311.9,719.7 312.2,719.7 312.6,719.8 312.9,719.8 313.2,719.8 313.5,719.9 313.8,719.9 314.2,720.0 314.5,720.0 314.8,720.0 315.1,720.0 315.4,720.1 315.7,720.1 316.1,720.1 316.4,720.2 316.7,720.2 317.0,720.2 317.3,720.2 317.7,720.2 318.0,720.3 318.3,720.3 318.6,720.3 318.9,720.3 319.3,720.3 319.6,720.3 319.9,720.4 320.2,720.4 320.5,720.4 320.8,720.4 321.2,720.4 321.5,720.4 321.8,720.4 322.1,720.4 322.4,720.5 322.8,720.5 323.1,720.5 323.4,720.5 323.7,720.5 324.0,720.5 324.3,720.5 324.7,720.5 325.0,720.5 325.3,720.5 325.6,720.5 325.9,720.5 326.3,720.6 326.6,720.6 326.9,720.6 327.2,720.6 327.5,720.6 327.8,720.6 328.2,720.6 328.5,720.6 328.8,720.6 329.1,720.6 329.4,720.6 329.8,720.6 330.1,720.6 330.4,720.6 330.7,720.6 331.0,720.6 331.3,720.6 331.7,720.6 332.0,720.6 332.3,720.6 332.6,720.6 332.9,720.6 333.3,720.7 333.6,720.7 333.9,720.7 334.2,720.7 334.5,720.7 334.9,720.7 335.2,720.7 335.5,720.7 335.8,720.7 336.1,720.7 336.4,720.7 336.8,720.7 337.1,720.7 337.4,720.7 337.7,720.7 338.0,720.7 338.4,720.7 338.7,720.7 339.0,720.7 339.3,720.7 339.6,720.7 339.9,720.7 340.3,720.7 340.6,720.7 340.9,720.7 341.2,720.7 341.5,720.7 341.9,720.7 342.2,720.7 342.5,720.7 342.8,720.7 343.1,720.7 343.4,720.7 343.8,720.7 344.1,720.7 344.4,720.7 344.7,720.7 345.0,720.7 345.4,720.7 345.7,720.7 346.0,720.7 346.3,720.7 346.6,720.7 346.9,720.7 347.3,720.7 347.6,720.7 347.9,720.7 348.2,720.7 348.5,720.7 348.9,720.7 349.2,720.7 349.5,720.7 349.8,720.7 350.1,720.7 350.5,720.7 350.8,720.7 351.1,720.7 351.4,720.7 351.7,720.7 352.0,720.7 352.4,720.7 352.7,720.7 353.0,720.7 353.3,720.7 353.6,720.7 354.0,720.7 354.3,720.7 354.6,720.7 354.9,720.7 355.2,720.7 355.5,720.7 355.9,720.7 356.2,720.7 356.5,720.7 356.8,720.7 357.1,720.7 357.5,720.7 357.8,720.7 358.1,720.7 358.4,720.7 358.7,720.7 359.0,720.7 359.4,720.7 359.7,720.7 360.0,720.7 360.3,720.7 360.6,720.7 361.0,720.7 361.3,720.7 361.6,720.7 361.9,720.7 362.2,720.7 362.5,720.7 362.9,720.7 363.2,720.7 363.5,720.7 363.8,720.7 364.1,720.7 364.5,720.7 364.8,720.7 365.1,720.7 365.4,720.7 365.7,720.7 366.1,720.7 366.4,720.7 366.7,720.7 367.0,720.7 367.3,720.7 367.6,720.7 368.0,720.7 368.3,720.7 368.6,720.7 368.9,720.7 369.2,720.7 369.6,720.7 369.9,720.7 370.2,720.7 370.5,720.7 370.8,720.7 371.1,720.7 371.5,720.7 371.8,720.7 372.1,720.7 372.4,720.7 372.7,720.7 373.1,720.7 373.4,720.7 373.7,720.7 374.0,720.7 374.3,720.7 374.6,720.7 375.0,720.7 375.3,720.7 375.6,720.7 375.9,720.7 376.2,720.7 376.6,720.7 376.9,720.7 377.2,720.7 377.5,720.7 377.8,720.7 378.2,720.7 378.5,720.7 378.8,720.7 379.1,720.7 379.4,720.7 379.7,720.7 380.1,720.7 380.4,720.7 380.7,720.7 381.0,720.7 381.3,720.6 381.7,720.6 382.0,720.6 382.3,720.6 382.6,720.6 382.9,720.6 383.2,720.6 383.6,720.6 383.9,720.6 384.2,720.6 384.5,720.6 384.8,720.6 385.2,720.6 385.5,720.6 385.8,720.6 386.1,720.6 386.4,720.6 386.7,720.6 387.1,720.6 387.4,720.6 387.7,720.6 388.0,720.6 388.3,720.6 388.7,720.6 389.0,720.6 389.3,720.6 389.6,720.6 389.9,720.6 390.2,720.6 390.6,720.6 390.9,720.6 391.2,720.6 391.5,720.6 391.8,720.6 392.2,720.5 392.5,720.5 392.8,720.5 393.1,720.5 393.4,720.5 393.8,720.5 394.1,720.5 394.4,720.5 394.7,720.5 395.0,720.5 395.3,720.5 395.7,720.5 396.0,720.5 396.3,720.5 396.6,720.5 396.9,720.5 397.3,720.5 397.6,720.5 397.9,720.5 398.2,720.4 398.5,720.4 398.8,720.4 399.2,720.4 399.5,720.4 399.8,720.4 400.1,720.4 400.4,720.4 400.8,720.4 401.1,720.4 401.4,720.4 401.7,720.4 402.0,720.3 402.3,720.3 402.7,720.3 403.0,720.3 403.3,720.3 403.6,720.3 403.9,720.3 404.3,720.3 404.6,720.3 404.9,720.2 405.2,720.2 405.5,720.2 405.8,720.2 406.2,720.2 406.5,720.2 406.8,720.2 407.1,720.1 407.4,720.1 407.8,720.1 408.1,720.1 408.4,720.1 408.7,720.1 409.0,720.0 409.4,720.0 409.7,720.0 410.0,720.0 410.3,720.0 410.6,719.9 410.9,719.9 411.3,719.9 411.6,719.8 411.9,719.8 412.2,719.8 412.5,719.7 412.9,719.7 413.2,719.7 413.5,719.6 413.8,719.6 414.1,719.5 414.4,719.5 414.8,719.4 415.1,719.4 415.4,719.3 415.7,719.2 416.0,719.1 416.4,719.1 416.7,719.0 417.0,718.9 417.3,718.8 417.6,718.6 417.9,718.5 418.3,718.3 418.6,718.2 418.9,718.0 419.2,717.8 419.5,717.6 419.9,717.4 420.2,717.2 420.5,716.9 420.8,716.7 421.1,716.5 421.4,716.2 421.8,716.0 422.1,715.7 422.4,715.5 422.7,715.4 423.0,715.3 423.4,715.2 423.7,715.1 424.0,715.2 424.3,715.2 424.6,715.3 425.0,715.4 425.3,715.5 425.6,715.6 425.9,715.7 426.2,715.8 426.5,715.9 426.9,715.9 427.2,716.0 427.5,716.0 427.8,716.0 428.1,716.0 428.5,715.9 428.8,715.9 429.1,715.8 429.4,715.7 429.7,715.5 430.0,715.3 430.4,715.1 430.7,714.9 431.0,714.6 431.3,714.3 431.6,714.0 432.0,713.5 432.3,713.1 432.6,712.5 432.9,711.9 433.2,711.2 433.5,710.4 433.9,709.4 434.2,708.3 434.5,707.0 434.8,705.5 435.1,703.8 435.5,701.8 435.8,699.5 436.1,696.9 436.4,694.0 436.7,690.7 437.0,687.0 437.4,683.0 437.7,678.6 438.0,673.9 438.3,668.9 438.6,663.7 439.0,658.4 439.3,653.3 439.6,648.5 439.9,644.3 440.2,641.1 440.6,639.0 440.9,638.3 441.2,639.0 441.5,641.1 441.8,644.4 442.1,648.5 442.5,653.3 442.8,658.4 443.1,663.7 443.4,668.9 443.7,673.9 444.1,678.7 444.4,683.1 444.7,687.1 445.0,690.8 445.3,694.1 445.6,697.0 446.0,699.6 446.3,701.9 446.6,703.9 446.9,705.6 447.2,707.1 447.6,708.4 447.9,709.5 448.2,710.5 448.5,711.3 448.8,712.0 449.1,712.7 449.5,713.2 449.8,713.7 450.1,714.1 450.4,714.5 450.7,714.8 451.1,715.1 451.4,715.4 451.7,715.6 452.0,715.8 452.3,715.9 452.6,716.1 453.0,716.2 453.3,716.3 453.6,716.4 453.9,716.4 454.2,716.4 454.6,716.4 454.9,716.4 455.2,716.3 455.5,716.2 455.8,716.0 456.2,715.8 456.5,715.5 456.8,715.1 457.1,714.7 457.4,714.2 457.7,713.7 458.1,713.1 458.4,712.4 458.7,711.7 459.0,711.0 459.3,710.3 459.7,709.6 460.0,709.1 460.3,708.8 460.6,708.7 460.9,708.9 461.2,709.3 461.6,709.9 461.9,710.7 462.2,711.5 462.5,712.3 462.8,713.1 463.2,713.9 463.5,714.6 463.8,715.3 464.1,715.9 464.4,716.4 464.7,716.9 465.1,717.3 465.4,717.6 465.7,718.0 466.0,718.2 466.3,718.5 466.7,718.7 467.0,718.8 467.3,719.0 467.6,719.1 467.9,719.3 468.3,719.4 468.6,719.5 468.9,719.6 469.2,719.6 469.5,719.7 469.8,719.8 470.2,719.8 470.5,719.9 470.8,719.9 471.1,720.0 471.4,720.0 471.8,720.0 472.1,720.1 472.4,720.1 472.7,720.1 473.0,720.2 473.3,720.2 473.7,720.2 474.0,720.2 474.3,720.2 474.6,720.2 474.9,720.2 475.3,720.2 475.6,720.2 475.9,720.2 476.2,720.2 476.5,720.2 476.8,720.2 477.2,720.2 477.5,720.2 477.8,720.1 478.1,720.1 478.4,720.0 478.8,720.0 479.1,719.9 479.4,719.8 479.7,719.8 480.0,719.7 480.3,719.5 480.7,719.4 481.0,719.2 481.3,719.1 481.6,718.9 481.9,718.6 482.3,718.4 482.6,718.1 482.9,717.8 483.2,717.5 483.5,717.2 483.9,716.9 484.2,716.5 484.5,716.2 484.8,715.9 485.1,715.6 485.4,715.4 485.8,715.3 486.1,715.3 486.4,715.3 486.7,715.5 487.0,715.7 487.4,716.0 487.7,716.3 488.0,716.6 488.3,717.0 488.6,717.4 488.9,717.7 489.3,718.0 489.6,718.4 489.9,718.7 490.2,718.9 490.5,719.2 490.9,719.4 491.2,719.6 491.5,719.8 491.8,719.9 492.1,720.1 492.4,720.2 492.8,720.3 493.1,720.4 493.4,720.5 493.7,720.6 494.0,720.7 494.4,720.7 494.7,720.8 495.0,720.8 495.3,720.9 495.6,720.9 495.9,721.0 496.3,721.0 496.6,721.0 496.9,721.1 497.2,721.1 497.5,721.1 497.9,721.2 498.2,721.2 498.5,721.2 498.8,721.2 499.1,721.3 499.5,721.3 499.8,721.3 500.1,721.3 500.4,721.3 500.7,721.4 501.0,721.4 501.4,721.4 501.7,721.4 502.0,721.4 502.3,721.4 502.6,721.4 503.0,721.5 503.3,721.5 503.6,721.5 503.9,721.5 504.2,721.5 504.5,721.5 504.9,721.5 505.2,721.5 505.5,721.6 505.8,721.6 506.1,721.6 506.5,721.6 506.8,721.6 507.1,721.6 507.4,721.6 507.7,721.6 508.0,721.6 508.4,721.7 508.7,721.7 509.0,721.7 509.3,721.7 509.6,721.7 510.0,721.7 510.3,721.7 510.6,721.7 510.9,721.7 511.2,721.8 511.5,721.8 511.9,721.8 512.2,721.8 512.5,721.8 512.8,721.8 513.1,721.8 513.5,721.8 513.8,721.8 514.1,721.8 514.4,721.8 514.7,721.9 515.1,721.9 515.4,721.9 515.7,721.9 516.0,721.9 516.3,721.9 516.6,721.9 517.0,721.9 517.3,721.9 517.6,721.9 517.9,721.9 518.2,721.9 518.6,721.9 518.9,722.0 519.2,722.0 519.5,722.0 519.8,722.0 520.1,722.0 520.5,722.0 520.8,722.0 521.1,722.0 521.4,722.0 521.7,722.0 522.1,722.0 522.4,722.0 522.7,722.0 523.0,722.1 523.3,722.1 523.6,722.1 524.0,722.1 524.3,722.1 524.6,722.1 524.9,722.1 525.2,722.1 525.6,722.1 525.9,722.1 526.2,722.1 526.5,722.1 526.8,722.1 527.1,722.1 527.5,722.2 527.8,722.2 528.1,722.2 528.4,722.2 528.7,722.2 529.1,722.2 529.4,722.2 529.7,722.2 530.0,722.2 530.3,722.2 530.7,722.2 531.0,722.2 531.3,722.2 531.6,722.2 531.9,722.3 532.2,722.3 532.6,722.3 532.9,722.3 533.2,722.3 533.5,722.3 533.8,722.3 534.2,722.3 534.5,722.3 534.8,722.3 535.1,722.3 535.4,722.3 535.7,722.3 536.1,722.3 536.4,722.3 536.7,722.4 537.0,722.4 537.3,722.4 537.7,722.4 538.0,722.4 538.3,722.4 538.6,722.4 538.9,722.4 539.2,722.4 539.6,722.4 539.9,722.4 540.2,722.4 540.5,722.4 540.8,722.4 541.2,722.4 541.5,722.4 541.8,722.4 542.1,722.5 542.4,722.5 542.7,722.5 543.1,722.5 543.4,722.5 543.7,722.5 544.0,722.5 544.3,722.5 544.7,722.5 545.0,722.5 545.3,722.5 545.6,722.5 545.9,722.5 546.3,722.5 546.6,722.5 546.9,722.5 547.2,722.5 547.5,722.5 547.8,722.5 548.2,722.5 548.5,722.5 548.8,722.5 549.1,722.5 549.4,722.5 549.8,722.5 550.1,722.5 550.4,722.5 550.7,722.5 551.0,722.5 551.3,722.5 551.7,722.5 552.0,722.5 552.3,722.5 552.6,722.5 552.9,722.5 553.3,722.5 553.6,722.5 553.9,722.5 554.2,722.5 554.5,722.5 554.8,722.5 555.2,722.5 555.5,722.5 555.8,722.5 556.1,722.5 556.4,722.5 556.8,722.5 557.1,722.5 557.4,722.5 557.7,722.5 558.0,722.5 558.4,722.5 558.7,722.5 559.0,722.5 559.3,722.5 559.6,722.5 559.9,722.5 560.3,722.5 560.6,722.5 560.9,722.5 561.2,722.5 561.5,722.5 561.9,722.5 562.2,722.5 562.5,722.5 562.8,722.5 563.1,722.5 563.4,722.5 563.8,722.5 564.1,722.5 564.4,722.5 564.7,722.5 565.0,722.5 565.4,722.5 565.7,722.5 566.0,722.5 566.3,722.4 566.6,722.4 566.9,722.4 567.3,722.4 567.6,722.4 567.9,722.4 568.2,722.4 568.5,722.4 568.9,722.4 569.2,722.4 569.5,722.4 569.8,722.4 570.1,722.4 570.4,722.3 570.8,722.3 571.1,722.3 571.4,722.3 571.7,722.3 572.0,722.2 572.4,722.2 572.7,722.1 573.0,722.1 573.3,722.0 573.6,722.0 574.0,721.9 574.3,721.9 574.6,721.8 574.9,721.7 575.2,721.6 575.5,721.6 575.9,721.5 576.2,721.4 576.5,721.4 576.8,721.3 577.1,721.3 577.5,721.3 577.8,721.4 578.1,721.4 578.4,721.5 578.7,721.6 579.0,721.6 579.4,721.7 579.7,721.8 580.0,721.9 580.3,721.9 580.6,722.0 581.0,722.1 581.3,722.1 581.6,722.1 581.9,722.2 582.2,722.2 582.5,722.3 582.9,722.3 583.2,722.3 583.5,722.3 583.8,722.3 584.1,722.4 584.5,722.4 584.8,722.4 585.1,722.4 585.4,722.4 585.7,722.4 586.0,722.4 586.4,722.4 586.7,722.4 587.0,722.4 587.3,722.4 587.6,722.5 588.0,722.5 588.3,722.5 588.6,722.5 588.9,722.5 589.2,722.5 589.6,722.5 589.9,722.5 590.2,722.5 590.5,722.5 590.8,722.5 591.1,722.5 591.5,722.5 591.8,722.5 592.1,722.5 592.4,722.5 592.7,722.5 593.1,722.5 593.4,722.5 593.7,722.5 594.0,722.5 594.3,722.5 594.6,722.5 595.0,722.5 595.3,722.5 595.6,722.5 595.9,722.5 596.2,722.5 596.6,722.5 596.9,722.5 597.2,722.5 597.5,722.5 597.8,722.5 598.1,722.5 598.5,722.5 598.8,722.5 599.1,722.5 599.4,722.5 599.7,722.5 600.1,722.5 600.4,722.5 600.7,722.5 601.0,722.5 601.3,722.5 601.6,722.5 602.0,722.5 602.3,722.5 602.6,722.5 602.9,722.5 603.2,722.5 603.6,722.5 603.9,722.5 604.2,722.5 604.5,722.5 604.8,722.5 605.2,722.5 605.5,722.5 605.8,722.5 606.1,722.5 606.4,722.5 606.7,722.5 607.1,722.5 607.4,722.5 607.7,722.5 608.0,722.4 608.3,722.4 608.7,722.4 609.0,722.4 609.3,722.4 609.6,722.4 609.9,722.4 610.2,722.4 610.6,722.4 610.9,722.4 611.2,722.4 611.5,722.4 611.8,722.4 612.2,722.4 612.5,722.4 612.8,722.4 613.1,722.3 613.4,722.3 613.7,722.3 614.1,722.3 614.4,722.3 614.7,722.3 615.0,722.3 615.3,722.2 615.7,722.2 616.0,722.2 616.3,722.2 616.6,722.1 616.9,722.1 617.2,722.1 617.6,722.0 617.9,722.0 618.2,721.9 618.5,721.9 618.8,721.8 619.2,721.7 619.5,721.6 619.8,721.5 620.1,721.4 620.4,721.3 620.8,721.1 621.1,721.0 621.4,720.8 621.7,720.6 622.0,720.3 622.3,720.1 622.7,719.8 623.0,719.6 623.3,719.3 623.6,719.1 623.9,718.9 624.3,718.7 624.6,718.6 624.9,718.6 625.2,718.6 625.5,718.7 625.8,718.9 626.2,719.1 626.5,719.3 626.8,719.6 627.1,719.8 627.4,720.1 627.8,720.3 628.1,720.6 628.4,720.8 628.7,721.0 629.0,721.1 629.3,721.3 629.7,721.4 630.0,721.5 630.3,721.6 630.6,721.7 630.9,721.8 631.3,721.9 631.6,721.9 631.9,722.0 632.2,722.0 632.5,722.1 632.9,722.1 633.2,722.1 633.5,722.2 633.8,722.2 634.1,722.2 634.4,722.2 634.8,722.2 635.1,722.3 635.4,722.3 635.7,722.3 636.0,722.3 636.4,722.3 636.7,722.3 637.0,722.3 637.3,722.3 637.6,722.4 637.9,722.4 638.3,722.4 638.6,722.4 638.9,722.4 639.2,722.4 639.5,722.4 639.9,722.4 640.2,722.4 640.5,722.4 640.8,722.4 641.1,722.4 641.4,722.4 641.8,722.4 642.1,722.4 642.4,722.4 642.7,722.4 643.0,722.4 643.4,722.4 643.7,722.4 644.0,722.4 644.3,722.4 644.6,722.4 644.9,722.4 645.3,722.4 645.6,722.4 645.9,722.4 646.2,722.4 646.5,722.4 646.9,722.4 647.2,722.4 647.5,722.4 647.8,722.4 648.1,722.4 648.5,722.4 648.8,722.4 649.1,722.4 649.4,722.4 649.7,722.4 650.0,722.4 650.4,722.4 650.7,722.4 651.0,722.4 651.3,722.4 651.6,722.4 652.0,722.4 652.3,722.4 652.6,722.4 652.9,722.4 653.2,722.4 653.5,722.4 653.9,722.4 654.2,722.4 654.5,722.4 654.8,722.4 655.1,722.4 655.5,722.4 655.8,722.3 656.1,722.3 656.4,722.3 656.7,722.3 657.0,722.3 657.4,722.3 657.7,722.3 658.0,722.3 658.3,722.2 658.6,722.2 659.0,722.2 659.3,722.2 659.6,722.2 659.9,722.1 660.2,722.1 660.5,722.0 660.9,722.0 661.2,721.9 661.5,721.9 661.8,721.8 662.1,721.7 662.5,721.7 662.8,721.6 663.1,721.5 663.4,721.3 663.7,721.2 664.1,721.1 664.4,721.0 664.7,720.8 665.0,720.7 665.3,720.6 665.6,720.5 666.0,720.4 666.3,720.4 666.6,720.4 666.9,720.5 667.2,720.6 667.6,720.7 667.9,720.8 668.2,720.9 668.5,721.0 668.8,721.2 669.1,721.3 669.5,721.4 669.8,721.5 670.1,721.6 670.4,721.7 670.7,721.7 671.1,721.8 671.4,721.9 671.7,721.9 672.0,721.9 672.3,722.0 672.6,722.0 673.0,722.0 673.3,722.1 673.6,722.1 673.9,722.1 674.2,722.1 674.6,722.1 674.9,722.1 675.2,722.1 675.5,722.1 675.8,722.1 676.1,722.1 676.5,722.1 676.8,722.1 677.1,722.1 677.4,722.1 677.7,722.1 678.1,722.1 678.4,722.1 678.7,722.1 679.0,722.1 679.3,722.1 679.7,722.1 680.0,722.1 680.3,722.1 680.6,722.1 680.9,722.1 681.2,722.1 681.6,722.1 681.9,722.0 682.2,722.0 682.5,722.0 682.8,722.0 683.2,722.0 683.5,722.0 683.8,722.0 684.1,722.0 684.4,721.9 684.7,721.9 685.1,721.9 685.4,721.9 685.7,721.9 686.0,721.9 686.3,721.8 686.7,721.8 687.0,721.8 687.3,721.8 687.6,721.7 687.9,721.7 688.2,721.7 688.6,721.7 688.9,721.6 689.2,721.6 689.5,721.6 689.8,721.5 690.2,721.5 690.5,721.4 690.8,721.4 691.1,721.4 691.4,721.3 691.7,721.3 692.1,721.2 692.4,721.2 692.7,721.1 693.0,721.0 693.3,721.0 693.7,720.9 694.0,720.8 694.3,720.8 694.6,720.7 694.9,720.6 695.3,720.5 695.6,720.4 695.9,720.3 696.2,720.2 696.5,720.0 696.8,719.9 697.2,719.8 697.5,719.6 697.8,719.4 698.1,719.2 698.4,719.0 698.8,718.8 699.1,718.6 699.4,718.3 699.7,718.0 700.0,717.6 700.3,717.3 700.7,716.8 701.0,716.3 701.3,715.8 701.6,715.2 701.9,714.4 702.3,713.6 702.6,712.7 702.9,711.6 703.2,710.4 703.5,709.0 703.8,707.4 704.2,705.6 704.5,703.6 704.8,701.4 705.1,699.0 705.4,696.3 705.8,693.5 706.1,690.5 706.4,687.4 706.7,684.4 707.0,681.5 707.3,679.0 707.7,677.0 708.0,675.8 708.3,675.3 708.6,675.8 708.9,677.1 709.3,679.1 709.6,681.6 709.9,684.5 710.2,687.6 710.5,690.7 710.9,693.7 711.2,696.6 711.5,699.2 711.8,701.7 712.1,703.9 712.4,705.9 712.8,707.8 713.1,709.4 713.4,710.8 713.7,712.0 714.0,713.1 714.4,714.1 714.7,714.9 715.0,715.6 715.3,716.3 715.6,716.9 715.9,717.4 716.3,717.8 716.6,718.2 716.9,718.5 717.2,718.9 717.5,719.1 717.9,719.4 718.2,719.6 718.5,719.9 718.8,720.1 719.1,720.2 719.4,720.4 719.8,720.6 720.1,720.7 720.4,720.8 720.7,721.0 721.0,721.1 721.4,721.2 721.7,721.3 722.0,721.4 722.3,721.4 722.6,721.5 723.0,721.6 723.3,721.7 723.6,721.7 723.9,721.8 724.2,721.8 724.5,721.9 724.9,721.9 725.2,722.0 725.5,722.0 725.8,722.0 726.1,722.1 726.5,722.1 726.8,722.1 727.1,722.1 727.4,722.1 727.7,722.1 728.0,722.1 728.4,722.1 728.7,722.0 729.0,722.0 729.3,722.0 729.6,721.9 730.0,721.9 730.3,721.8 730.6,721.7 730.9,721.6 731.2,721.6 731.5,721.5 731.9,721.4 732.2,721.3 732.5,721.3 732.8,721.2 733.1,721.2 733.5,721.2 733.8,721.2 734.1,721.2 734.4,721.3 734.7,721.3 735.0,721.4 735.4,721.5 735.7,721.7 736.0,721.8 736.3,721.9 736.6,722.0 737.0,722.2 737.3,722.3 737.6,722.4 737.9,722.5 738.2,722.6 738.6,722.7 738.9,722.8 739.2,722.8 739.5,722.9 739.8,723.0 740.1,723.0 740.5,723.1 740.8,723.1 741.1,723.2 741.4,723.2 741.7,723.3 742.1,723.3 742.4,723.3 742.7,723.4 743.0,723.4 743.3,723.4 743.6,723.4 744.0,723.5 744.3,723.5 744.6,723.5 744.9,723.5 745.2,723.5 745.6,723.6 745.9,723.6 746.2,723.6 746.5,723.6 746.8,723.6 747.1,723.7 747.5,723.7 747.8,723.7 748.1,723.7 748.4,723.7 748.7,723.7 749.1,723.7 749.4,723.7 749.7,723.8 750.0,723.8 750.3,723.8 750.6,723.8 751.0,723.8 751.3,723.8 751.6,723.8 751.9,723.8 752.2,723.8 752.6,723.8 752.9,723.8 753.2,723.9 753.5,723.9 753.8,723.9 754.2,723.9 754.5,723.9 754.8,723.9 755.1,723.9 755.4,723.9 755.7,723.9 756.1,723.9 756.4,723.8 756.7,723.8 757.0,723.8 757.3,723.8 757.7,723.8 758.0,723.8 758.3,723.7 758.6,723.7 758.9,723.7 759.2,723.6 759.6,723.6 759.9,723.6 760.2,723.5 760.5,723.5 760.8,723.4 761.2,723.4 761.5,723.3 761.8,723.3 762.1,723.3 762.4,723.2 762.7,723.2 763.1,723.2 763.4,723.2 763.7,723.3 764.0,723.3 764.3,723.3 764.7,723.4 765.0,723.4 765.3,723.5 765.6,723.5 765.9,723.6 766.2,723.7 766.6,723.7 766.9,723.8 767.2,723.8 767.5,723.9 767.8,723.9 768.2,723.9 768.5,724.0 768.8,724.0 769.1,724.0 769.4,724.1 769.8,724.1 770.1,724.1 770.4,724.1 770.7,724.1 771.0,724.2 771.3,724.2 771.7,724.2 772.0,724.2 772.3,724.2 772.6,724.2 772.9,724.2 773.3,724.2 773.6,724.2 773.9,724.2 774.2,724.3 774.5,724.3 774.8,724.3 775.2,724.3 775.5,724.3 775.8,724.3 776.1,724.3 776.4,724.3 776.8,724.3 777.1,724.3 777.4,724.3 777.7,724.3 778.0,724.3 778.3,724.3 778.7,724.3 779.0,724.3 779.3,724.3 779.6,724.3 779.9,724.4 780.3,724.4 780.6,724.4 780.9,724.4 781.2,724.4 781.5,724.4 781.8,724.4 782.2,724.4 782.5,724.4 782.8,724.4 783.1,724.4 783.4,724.4 783.8,724.4 784.1,724.4 784.4,724.4 784.7,724.4 785.0,724.4 785.4,724.4 785.7,724.4 786.0,724.4 786.3,724.4 786.6,724.4 786.9,724.4 787.3,724.4 787.6,724.4 787.9,724.4 788.2,724.4 788.5,724.4 788.9,724.4 789.2,724.4 789.5,724.4 789.8,724.4 790.1,724.4 790.4,724.5 790.8,724.5 791.1,724.5 791.4,724.5 791.7,724.5 792.0,724.5 792.4,724.5 792.7,724.5 793.0,724.5 793.3,724.5 793.6,724.5 793.9,724.5 794.3,724.5 794.6,724.5 794.9,724.5 795.2,724.5 795.5,724.5 795.9,724.5 796.2,724.5 796.5,724.5 796.8,724.5 797.1,724.5 797.4,724.5 797.8,724.5 798.1,724.5 798.4,724.5 798.7,724.5 799.0,724.5 799.4,724.5 799.7,724.5 800.0,724.5 800.3,724.5 800.6,724.5 801.0,724.5 801.3,724.5 801.6,724.5 801.9,724.5 802.2,724.5 802.5,724.5 802.9,724.5 803.2,724.5 803.5,724.5 803.8,724.5 804.1,724.5 804.5,724.5 804.8,724.5 805.1,724.5 805.4,724.5 805.7,724.5 806.0,724.5 806.4,724.5 806.7,724.5 807.0,724.5 807.3,724.5 807.6,724.5 808.0,724.5 808.3,724.5 808.6,724.5 808.9,724.5 809.2,724.5 809.5,724.5 809.9,724.5 810.2,724.5 810.5,724.5 810.8,724.5 811.1,724.5 811.5,724.5 811.8,724.5 812.1,724.5 812.4,724.5 812.7,724.5 813.1,724.5 813.4,724.5 813.7,724.5 814.0,724.4 814.3,724.4 814.6,724.4 815.0,724.4 815.3,724.4 815.6,724.4 815.9,724.4 816.2,724.4 816.6,724.4 816.9,724.4 817.2,724.4 817.5,724.4 817.8,724.4 818.1,724.4 818.5,724.4 818.8,724.4 819.1,724.3 819.4,724.3 819.7,724.3 820.1,724.3 820.4,724.3 820.7,724.3 821.0,724.3 821.3,724.3 821.6,724.3 822.0,724.2 822.3,724.2 822.6,724.2 822.9,724.2 823.2,724.2 823.6,724.2 823.9,724.1 824.2,724.1 824.5,724.1 824.8,724.1 825.1,724.1 825.5,724.0 825.8,724.0 826.1,724.0 826.4,724.0 826.7,723.9 827.1,723.9 827.4,723.9 827.7,723.8 828.0,723.8 828.3,723.8 828.7,723.7 829.0,723.7 829.3,723.6 829.6,723.6 829.9,723.5 830.2,723.5 830.6,723.4 830.9,723.3 831.2,723.3 831.5,723.2 831.8,723.1 832.2,723.1 832.5,723.0 832.8,722.9 833.1,722.8 833.4,722.7 833.7,722.6 834.1,722.4 834.4,722.3 834.7,722.2 835.0,722.0 835.3,721.9 835.7,721.7 836.0,721.5 836.3,721.4 836.6,721.1 836.9,720.9 837.2,720.7 837.6,720.5 837.9,720.2"/>
<polyline stroke="#000080" stroke-width="3.4" points="205.3,805.8 206.0,806.3 206.8,806.0 207.6,807.0 208.3,806.2 209.1,805.4 209.9,805.7 210.6,805.0 211.4,804.8 212.1,805.1 212.9,805.7 213.7,804.7 214.4,806.3 215.2,805.9 216.0,806.1 216.7,806.0 217.5,805.4 218.3,805.7 219.0,804.4 219.8,805.7 220.6,805.2 221.3,805.9 222.1,806.3 222.8,804.3 223.6,804.7 224.4,804.7 225.1,805.3 225.9,804.9 226.7,804.9 227.4,805.8 228.2,804.7 229.0,805.1 229.7,805.4 230.5,805.3 231.3,804.5 232.0,806.1 232.8,806.7 233.5,807.3 234.3,805.7 235.1,805.4 235.8,805.3 236.6,805.7 237.4,805.7 238.1,805.8 238.9,806.8 239.7,806.0 240.4,806.2 241.2,805.2 241.9,804.9 242.7,805.5 243.5,805.7 244.2,806.7 245.0,806.0 245.8,805.4 246.5,807.6 247.3,807.3 248.1,806.7 248.8,806.2 249.6,805.8 250.4,806.6 251.1,805.1 251.9,806.4 252.6,806.1 253.4,807.1 254.2,805.6 254.9,806.0 255.7,805.7 256.5,804.8 257.2,804.6 258.0,805.6 258.8,804.5 259.5,804.9 260.3,806.5 261.1,804.9 261.8,805.5 262.6,806.4 263.3,806.0 264.1,805.7 264.9,804.7 265.6,805.8 266.4,805.1 267.2,805.1 267.9,805.1 268.7,804.9 269.5,806.0 270.2,805.1 271.0,804.6 271.7,806.1 272.5,805.3 273.3,804.9 274.0,804.8 274.8,805.1 275.6,805.2 276.3,804.6 277.1,805.1 277.9,804.5 278.6,803.8 279.4,804.4 280.2,805.2 280.9,805.5 281.7,805.5 282.4,803.8 283.2,804.2 284.0,804.9 284.7,804.2 285.5,803.2 286.3,803.7 287.0,805.7 287.8,803.7 288.6,806.4 289.3,806.1 290.1,805.2 290.9,804.9 291.6,804.9 292.4,804.2 293.1,804.2 293.9,804.4 294.7,802.9 295.4,802.9 296.2,802.4 297.0,801.1 297.7,800.7 298.5,800.4 299.3,798.2 300.0,799.4 300.8,799.1 301.5,800.1 302.3,801.6 303.1,803.2 303.8,803.6 304.6,803.1 305.4,804.1 306.1,804.3 306.9,804.4 307.7,804.5 308.4,804.2 309.2,804.5 310.0,803.5 310.7,805.2 311.5,804.7 312.2,806.1 313.0,805.7 313.8,804.3 314.5,805.3 315.3,805.2 316.1,805.0 316.8,803.3 317.6,802.8 318.4,803.7 319.1,803.0 319.9,804.2 320.7,804.0 321.4,803.6 322.2,803.8 322.9,803.3 323.7,804.5 324.5,804.2 325.2,803.8 326.0,804.0 326.8,804.0 327.5,803.9 328.3,803.1 329.1,804.2 329.8,803.5 330.6,803.8 331.3,804.0 332.1,804.8 332.9,804.9 333.6,804.0 334.4,803.8 335.2,805.1 335.9,805.0 336.7,805.4 337.5,803.7 338.2,804.3 339.0,803.2 339.8,802.1 340.5,804.1 341.3,803.6 342.0,804.0 342.8,803.6 343.6,803.9 344.3,802.4 345.1,802.8 345.9,804.3 346.6,804.1 347.4,803.6 348.2,802.8 348.9,804.1 349.7,804.9 350.5,803.6 351.2,803.5 352.0,803.6 352.7,804.7 353.5,804.3 354.3,803.7 355.0,803.7 355.8,804.5 356.6,803.5 357.3,803.9 358.1,804.4 358.9,804.0 359.6,802.8 360.4,804.3 361.1,803.6 361.9,803.2 362.7,804.5 363.4,803.3 364.2,804.2 365.0,805.7 365.7,805.1 366.5,804.7 367.3,804.6 368.0,803.2 368.8,804.2 369.6,804.6 370.3,803.8 371.1,805.2 371.8,803.7 372.6,803.6 373.4,803.5 374.1,803.5 374.9,804.0 375.7,804.6 376.4,804.1 377.2,804.7 378.0,804.7 378.7,803.4 379.5,803.3 380.3,803.4 381.0,802.5 381.8,803.4 382.5,803.3 383.3,803.1 384.1,803.7 384.8,803.8 385.6,804.3 386.4,802.9 387.1,803.3 387.9,803.1 388.7,802.8 389.4,803.1 390.2,804.2 390.9,804.5 391.7,803.5 392.5,803.1 393.2,803.9 394.0,803.9 394.8,803.3 395.5,804.1 396.3,804.1 397.1,804.4 397.8,803.9 398.6,804.5 399.4,803.8 400.1,804.1 400.9,803.3 401.6,803.0 402.4,802.7 403.2,803.1 403.9,803.7 404.7,804.3 405.5,803.8 406.2,803.9 407.0,804.7 407.8,803.2 408.5,802.6 409.3,802.8 410.1,803.6 410.8,803.3 411.6,802.1 412.3,802.2 413.1,803.7 413.9,802.5 414.6,803.9 415.4,804.4 416.2,801.6 416.9,803.7 417.7,803.3 418.5,802.5 419.2,802.8 420.0,801.5 420.7,800.2 421.5,799.6 422.3,797.4 423.0,794.9 423.8,795.3 424.6,794.3 425.3,793.7 426.1,793.5 426.9,794.8 427.6,796.3 428.4,797.1 429.2,798.4 429.9,801.2 430.7,801.4 431.4,802.6 432.2,802.3 433.0,802.2 433.7,802.3 434.5,801.6 435.3,798.6 436.0,795.9 436.8,788.7 437.6,780.3 438.3,767.5 439.1,754.1 439.9,741.9 440.6,735.3 441.4,737.1 442.1,745.5 442.9,758.6 443.7,772.6 444.4,783.2 445.2,790.4 446.0,795.8 446.7,798.7 447.5,800.8 448.3,801.3 449.0,801.0 449.8,800.4 450.5,800.4 451.3,800.4 452.1,798.8 452.8,798.6 453.6,798.3 454.4,797.6 455.1,796.7 455.9,796.5 456.7,795.9 457.4,796.2 458.2,794.5 459.0,796.0 459.7,795.9 460.5,796.5 461.2,796.9 462.0,795.3 462.8,797.7 463.5,798.2 464.3,799.0 465.1,798.7 465.8,799.2 466.6,799.5 467.4,801.2 468.1,800.5 468.9,801.6 469.7,801.3 470.4,802.0 471.2,801.6 471.9,802.6 472.7,802.2 473.5,802.3 474.2,802.8 475.0,802.5 475.8,801.8 476.5,803.0 477.3,803.0 478.1,802.8 478.8,803.5 479.6,803.3 480.3,801.9 481.1,802.5 481.9,801.0 482.6,800.8 483.4,800.3 484.2,801.4 484.9,801.8 485.7,801.4 486.5,801.7 487.2,802.1 488.0,802.4 488.8,802.2 489.5,803.9 490.3,803.9 491.0,804.5 491.8,803.9 492.6,803.7 493.3,802.8 494.1,803.0 494.9,803.7 495.6,804.2 496.4,804.3 497.2,803.6 497.9,804.4 498.7,803.6 499.5,803.7 500.2,804.0 501.0,803.7 501.7,804.2 502.5,803.1 503.3,805.0 504.0,805.0 504.8,805.4 505.6,804.9 506.3,806.6 507.1,806.2 507.9,804.8 508.6,805.0 509.4,805.8 510.1,804.8 510.9,804.6 511.7,804.5 512.4,804.2 513.2,805.3 514.0,804.9 514.7,805.2 515.5,805.1 516.3,806.5 517.0,805.9 517.8,805.2 518.6,806.3 519.3,806.0 520.1,806.3 520.8,805.5 521.6,804.8 522.4,804.7 523.1,805.1 523.9,806.7 524.7,804.9 525.4,806.3 526.2,804.8 527.0,804.8 527.7,804.9 528.5,805.3 529.3,805.1 530.0,804.7 530.8,805.3 531.5,806.2 532.3,807.0 533.1,807.1 533.8,806.8 534.6,806.9 535.4,807.9 536.1,806.3 536.9,806.7 537.7,807.4 538.4,807.8 539.2,806.5 539.9,807.0 540.7,807.5 541.5,806.6 542.2,805.1 543.0,806.2 543.8,806.3 544.5,807.3 545.3,806.7 546.1,806.9 546.8,807.3 547.6,806.4 548.4,806.2 549.1,806.6 549.9,805.6 550.6,805.8 551.4,806.0 552.2,806.7 552.9,806.0 553.7,806.1 554.5,806.6 555.2,805.9 556.0,806.6 556.8,806.0 557.5,805.9 558.3,806.9 559.1,806.9 559.8,807.2 560.6,807.3 561.3,807.7 562.1,806.3 562.9,806.7 563.6,806.4 564.4,806.5 565.2,806.2 565.9,807.1 566.7,807.9 567.5,808.0 568.2,808.8 569.0,808.7 569.7,806.5 570.5,807.3 571.3,806.7 572.0,805.1 572.8,805.9 573.6,806.5 574.3,806.9 575.1,806.0 575.9,807.4 576.6,805.9 577.4,805.8 578.2,805.7 578.9,805.2 579.7,804.8 580.4,805.3 581.2,805.7 582.0,805.6 582.7,805.5 583.5,804.1 584.3,805.3 585.0,807.0 585.8,806.8 586.6,807.2 587.3,806.1 588.1,806.9 588.9,806.0 589.6,805.7 590.4,806.5 591.1,807.0 591.9,806.8 592.7,807.2 593.4,806.9 594.2,806.2 595.0,807.5 595.7,807.2 596.5,807.1 597.3,806.7 598.0,806.0 598.8,805.9 599.5,805.5 600.3,806.0 601.1,806.8 601.8,805.5 602.6,806.5 603.4,807.1 604.1,806.3 604.9,807.7 605.7,806.0 606.4,806.1 607.2,805.9 608.0,805.7 608.7,805.9 609.5,805.4 610.2,805.6 611.0,805.2 611.8,806.3 612.5,807.0 613.3,805.6 614.1,806.5 614.8,806.5 615.6,806.6 616.4,806.1 617.1,805.9 617.9,806.2 618.7,805.0 619.4,806.2 620.2,804.5 620.9,804.1 621.7,803.2 622.5,802.3 623.2,802.5 624.0,802.7 624.8,802.5 625.5,803.9 626.3,803.7 627.1,805.2 627.8,805.4 628.6,806.1 629.3,806.2 630.1,805.2 630.9,806.9 631.6,806.2 632.4,806.1 633.2,806.5 633.9,806.8 634.7,806.8 635.5,807.9 636.2,807.2 637.0,808.3 637.8,806.7 638.5,807.6 639.3,807.7 640.0,806.0 640.8,806.0 641.6,806.3 642.3,807.0 643.1,807.4 643.9,806.3 644.6,806.9 645.4,807.1 646.2,805.8 646.9,807.8 647.7,807.8 648.5,805.3 649.2,806.0 650.0,806.5 650.7,806.3 651.5,807.4 652.3,807.3 653.0,806.1 653.8,807.0 654.6,806.0 655.3,805.9 656.1,806.5 656.9,806.2 657.6,805.7 658.4,806.8 659.1,806.0 659.9,806.1 660.7,806.7 661.4,806.3 662.2,806.3 663.0,805.3 663.7,805.0 664.5,805.6 665.3,805.7 666.0,805.5 666.8,805.2 667.6,806.0 668.3,806.7 669.1,806.5 669.8,807.7 670.6,806.7 671.4,805.9 672.1,805.7 672.9,806.3 673.7,807.5 674.4,806.5 675.2,805.1 676.0,807.1 676.7,806.9 677.5,806.4 678.3,807.5 679.0,807.9 679.8,806.9 680.5,806.6 681.3,806.5 682.1,806.9 682.8,805.5 683.6,805.1 684.4,806.1 685.1,806.6 685.9,807.2 686.7,806.1 687.4,806.7 688.2,806.1 688.9,806.7 689.7,806.9 690.5,806.8 691.2,806.2 692.0,805.7 692.8,806.0 693.5,806.0 694.3,806.1 695.1,805.7 695.8,805.0 696.6,804.7 697.4,805.8 698.1,805.9 698.9,805.8 699.6,804.1 700.4,804.5 701.2,802.9 701.9,800.6 702.7,797.6 703.5,793.3 704.2,787.2 705.0,779.2 705.8,771.8 706.5,764.1 707.3,761.4 708.1,765.7 708.8,771.1 709.6,780.7 710.3,787.2 711.1,793.2 711.9,799.1 712.6,800.9 713.4,803.8 714.2,805.1 714.9,804.8 715.7,804.8 716.5,804.7 717.2,803.1 718.0,802.5 718.7,803.2 719.5,802.1 720.3,802.7 721.0,802.8 721.8,803.7 722.6,804.0 723.3,804.4 724.1,804.8 724.9,804.2 725.6,805.6 726.4,805.1 727.2,805.3 727.9,805.3"/>
<polyline stroke="#000080" stroke-width="2.5" points="727.9,805.3 728.7,804.9 729.4,805.9 730.2,805.8 731.0,806.1 731.7,805.3 732.5,805.2 733.3,805.4 734.0,806.0 734.8,805.3 735.6,805.0 736.3,805.2 737.1,805.2 737.9,805.0 738.6,805.4 739.4,804.8 740.1,805.3 740.9,805.4 741.7,805.0 742.4,804.9 743.2,805.1 744.0,805.6 744.7,805.2 745.5,805.2 746.3,805.6 747.0,804.9 747.8,805.1 748.5,805.2 749.3,805.1 750.1,805.5 750.8,805.8 751.6,805.9 752.4,806.5 753.1,806.0 753.9,805.9 754.7,806.2 755.4,805.6 756.2,805.7 757.0,806.4 757.7,806.3 758.5,806.5 759.2,806.4 760.0,806.5 760.8,806.2 761.5,806.7 762.3,806.7 763.1,806.2 763.8,806.5 764.6,806.4 765.4,806.6 766.1,806.8 766.9,806.7 767.7,806.5 768.4,806.6 769.2,806.1 769.9,806.6 770.7,806.2 771.5,806.7 772.2,806.0 773.0,806.7 773.8,806.7 774.5,806.8 775.3,807.3 776.1,806.9 776.8,805.9 777.6,805.9 778.3,806.5 779.1,806.6 779.9,806.8 780.6,807.5 781.4,807.3 782.2,807.6 782.9,807.5 783.7,806.7 784.5,806.9 785.2,806.4 786.0,806.5 786.8,806.4 787.5,806.9 788.3,806.7 789.0,806.4 789.8,806.1 790.6,806.2 791.3,806.1 792.1,806.2 792.9,806.0 793.6,805.3 794.4,805.3 795.2,805.8 795.9,805.6 796.7,806.0 797.5,805.4 798.2,805.7 799.0,805.9 799.7,805.9 800.5,806.2 801.3,806.8 802.0,806.6 802.8,806.9 803.6,806.3 804.3,806.0 805.1,806.1 805.9,806.4 806.6,806.6 807.4,806.9 808.1,806.8 808.9,806.8 809.7,806.8 810.4,806.2 811.2,806.4 812.0,806.7 812.7,806.7 813.5,806.2 814.3,806.0 815.0,806.3 815.8,805.9 816.6,806.6 817.3,806.3 818.1,806.9 818.8,806.1 819.6,806.8 820.4,806.6 821.1,806.7 821.9,806.6 822.7,806.0 823.4,805.7 824.2,806.5 825.0,806.0 825.7,806.5 826.5,805.8 827.2,806.3 828.0,806.2 828.8,805.8 829.5,806.2 830.3,806.1 831.1,806.3 831.8,806.7 832.6,806.8 833.4,806.4 834.1,806.2 834.9,806.8 835.7,806.3 836.4,806.5 837.2,806.5 837.9,807.0"/>
<polyline stroke="#008000" stroke-width="3.5" points="205.3,888.4 206.0,888.9 206.8,888.4 207.6,888.4 208.3,888.3 209.1,887.9 209.9,887.6 210.6,888.2 211.4,888.6 212.1,888.3 212.9,889.1 213.7,888.8 214.4,888.4 215.2,887.4 216.0,887.9 216.7,887.6 217.5,887.4 218.3,888.4 219.0,888.2 219.8,889.1 220.6,889.9 221.3,889.2 222.1,888.8 222.8,888.9 223.6,889.5 224.4,889.2 225.1,889.6 225.9,888.3 226.7,889.7 227.4,889.4 228.2,889.4 229.0,890.2 229.7,889.5 230.5,888.3 231.3,888.1 232.0,889.0 232.8,888.7 233.5,887.9 234.3,888.5 235.1,887.8 235.8,888.2 236.6,887.3 237.4,887.6 238.1,886.9 238.9,886.8 239.7,887.1 240.4,885.7 241.2,886.7 241.9,886.5 242.7,887.5 243.5,887.6 244.2,888.3 245.0,889.0 245.8,888.3 246.5,888.8 247.3,888.4 248.1,887.6 248.8,888.6 249.6,888.5 250.4,888.0 251.1,888.4 251.9,888.3 252.6,888.2 253.4,887.5 254.2,887.6 254.9,889.2 255.7,888.9 256.5,887.7 257.2,888.0 258.0,887.6 258.8,887.7 259.5,888.1 260.3,888.6 261.1,886.8 261.8,886.5 262.6,887.0 263.3,887.4 264.1,887.0 264.9,887.0 265.6,887.7 266.4,887.9 267.2,888.9 267.9,887.7 268.7,889.6 269.5,889.3 270.2,889.2 271.0,888.5 271.7,888.9 272.5,889.3 273.3,888.2 274.0,889.3 274.8,888.5 275.6,888.5 276.3,888.5 277.1,888.8 277.9,887.6 278.6,888.5 279.4,888.4 280.2,888.6 280.9,888.5 281.7,888.0 282.4,888.0 283.2,887.8 284.0,887.3 284.7,887.8 285.5,887.3 286.3,887.7 287.0,887.4 287.8,886.6 288.6,887.7 289.3,887.8 290.1,888.3 290.9,887.9 291.6,888.7 292.4,887.8 293.1,886.5 293.9,887.2 294.7,887.1 295.4,888.3 296.2,888.5 297.0,888.5 297.7,887.7 298.5,886.8 299.3,887.6 300.0,886.8 300.8,887.1 301.5,887.3 302.3,887.5 303.1,888.0 303.8,887.9 304.6,888.2 305.4,887.7 306.1,887.8 306.9,888.5 307.7,887.2 308.4,886.9 309.2,887.6 310.0,887.8 310.7,887.8 311.5,887.6 312.2,887.4 313.0,887.0 313.8,886.8 314.5,886.2 315.3,886.3 316.1,887.9 316.8,887.4 317.6,887.4 318.4,888.2 319.1,887.6 319.9,886.9 320.7,887.9 321.4,887.0 322.2,887.5 322.9,888.1 323.7,887.7 324.5,888.0 325.2,887.2 326.0,886.8 326.8,886.8 327.5,886.5 328.3,887.1 329.1,887.1 329.8,886.0 330.6,886.5 331.3,887.1 332.1,886.5 332.9,886.8 333.6,887.8 334.4,887.1 335.2,886.6 335.9,887.2 336.7,887.3 337.5,886.4 338.2,887.6 339.0,886.6 339.8,886.5 340.5,886.4 341.3,886.9 342.0,886.3 342.8,887.0 343.6,886.5 344.3,887.2 345.1,887.3 345.9,885.5 346.6,884.6 347.4,884.1 348.2,884.7 348.9,884.0 349.7,884.3 350.5,885.0 351.2,886.3 352.0,886.2 352.7,886.6 353.5,887.2 354.3,885.8 355.0,886.0 355.8,887.4 356.6,887.8 357.3,887.7 358.1,887.9 358.9,887.3 359.6,887.0 360.4,887.7 361.1,886.8 361.9,887.6 362.7,887.3 363.4,887.0 364.2,887.5 365.0,886.9 365.7,887.3 366.5,886.9 367.3,887.6 368.0,886.3 368.8,885.3 369.6,886.5 370.3,887.1 371.1,886.9 371.8,887.0 372.6,887.6 373.4,887.4 374.1,886.9 374.9,887.0 375.7,886.6 376.4,886.7 377.2,886.2 378.0,886.7 378.7,887.2 379.5,887.5 380.3,887.0 381.0,886.2 381.8,885.6 382.5,885.5 383.3,886.4 384.1,886.5 384.8,887.7 385.6,888.3 386.4,887.5 387.1,887.7 387.9,887.1 388.7,887.4 389.4,888.1 390.2,887.4 390.9,887.4 391.7,886.1 392.5,887.3 393.2,886.6 394.0,886.5 394.8,886.9 395.5,885.4 396.3,886.3 397.1,887.1 397.8,886.4 398.6,886.8 399.4,885.8 400.1,886.1 400.9,885.9 401.6,887.5 402.4,885.6 403.2,886.3 403.9,886.1 404.7,886.6 405.5,886.9 406.2,886.7 407.0,887.0 407.8,886.4 408.5,885.8 409.3,887.7 410.1,886.7 410.8,886.6 411.6,886.2 412.3,886.3 413.1,886.0 413.9,886.2 414.6,885.2 415.4,884.0 416.2,885.0 416.9,886.3 417.7,885.3 418.5,885.0 419.2,885.8 420.0,885.5 420.7,884.0 421.5,883.7 422.3,882.1 423.0,879.7 423.8,879.9 424.6,878.5 425.3,878.6 426.1,879.0 426.9,878.1 427.6,879.7 428.4,881.5 429.2,882.6 429.9,882.4 430.7,883.9 431.4,883.3 432.2,884.0 433.0,883.8 433.7,885.2 434.5,884.9 435.3,883.2 436.0,879.3 436.8,872.7 437.6,863.4 438.3,851.4 439.1,838.0 439.9,826.2 440.6,819.6 441.4,820.4 442.1,829.1 442.9,841.6 443.7,854.3 444.4,865.8 445.2,873.3 446.0,878.5 446.7,880.9 447.5,882.6 448.3,882.4 449.0,883.0 449.8,882.3 450.5,882.7 451.3,881.3 452.1,882.2 452.8,881.3 453.6,880.6 454.4,880.6 455.1,879.3 455.9,880.2 456.7,879.5 457.4,878.9 458.2,879.4 459.0,878.3 459.7,879.6 460.5,880.5 461.2,880.7 462.0,881.5 462.8,881.4 463.5,882.9 464.3,883.1 465.1,882.7 465.8,884.6 466.6,884.7 467.4,883.5 468.1,884.2 468.9,883.9 469.7,884.4 470.4,884.8 471.2,885.2 471.9,885.0 472.7,885.8 473.5,885.6 474.2,886.3 475.0,886.3 475.8,887.2 476.5,887.8 477.3,886.6 478.1,886.3 478.8,887.1 479.6,884.8 480.3,885.3 481.1,884.6 481.9,884.1 482.6,883.8 483.4,884.0 484.2,884.6 484.9,884.2 485.7,885.0 486.5,885.8 487.2,885.5 488.0,885.7 488.8,885.9 489.5,885.9 490.3,886.6 491.0,887.0 491.8,886.5 492.6,886.1 493.3,887.1 494.1,886.9 494.9,886.2 495.6,887.0 496.4,886.9 497.2,886.8 497.9,887.0 498.7,887.1 499.5,886.9 500.2,887.2 501.0,886.9 501.7,887.0 502.5,887.8 503.3,887.6 504.0,888.2 504.8,888.6 505.6,888.4 506.3,888.8 507.1,887.9 507.9,888.2 508.6,889.2 509.4,889.3 510.1,888.5 510.9,889.3 511.7,888.7 512.4,888.5 513.2,887.6 514.0,888.3 514.7,887.7 515.5,887.9 516.3,887.9 517.0,886.9 517.8,888.1 518.6,887.4 519.3,887.5 520.1,887.6 520.8,888.1 521.6,887.5 522.4,886.3 523.1,887.3 523.9,887.3 524.7,887.1 525.4,888.5 526.2,888.1 527.0,888.4 527.7,887.9 528.5,887.3 529.3,887.4 530.0,887.6 530.8,886.6 531.5,886.2 532.3,888.0 533.1,887.7 533.8,888.7 534.6,887.9 535.4,888.2 536.1,887.4 536.9,888.0 537.7,887.8 538.4,888.6 539.2,887.8 539.9,887.5 540.7,887.7 541.5,887.3 542.2,887.3 543.0,887.3 543.8,887.8 544.5,888.7 545.3,888.0 546.1,887.8 546.8,887.7 547.6,888.5 548.4,888.1 549.1,887.5 549.9,888.7 550.6,888.5 551.4,887.4 552.2,887.5 552.9,888.0 553.7,887.8 554.5,888.5 555.2,889.4 556.0,889.5 556.8,889.4 557.5,888.7 558.3,888.7 559.1,888.5 559.8,888.7 560.6,889.4 561.3,889.3 562.1,889.6 562.9,888.9 563.6,889.2 564.4,888.7 565.2,888.6 565.9,889.0 566.7,887.9 567.5,889.8 568.2,889.4 569.0,889.1 569.7,889.7 570.5,890.1 571.3,888.0 572.0,888.2 572.8,887.9 573.6,889.0 574.3,888.9 575.1,888.8 575.9,889.3 576.6,889.1 577.4,889.3 578.2,888.6 578.9,888.4 579.7,889.2 580.4,888.3 581.2,889.2 582.0,889.3 582.7,889.2 583.5,888.7 584.3,887.0 585.0,888.7 585.8,887.6 586.6,888.9 587.3,889.4 588.1,889.5 588.9,888.8 589.6,888.6 590.4,887.6 591.1,887.9 591.9,888.6 592.7,888.7 593.4,888.7 594.2,888.9 595.0,888.1 595.7,888.9 596.5,888.1 597.3,889.4 598.0,889.5 598.8,888.7 599.5,889.7 600.3,888.4 601.1,888.1 601.8,888.6 602.6,888.3 603.4,887.8 604.1,888.5 604.9,887.8 605.7,888.0 606.4,889.1 607.2,888.4 608.0,889.7 608.7,889.2 609.5,888.0 610.2,888.6 611.0,887.6 611.8,887.7 612.5,887.3 613.3,887.1 614.1,887.7 614.8,887.4 615.6,888.0 616.4,888.2 617.1,886.4 617.9,887.3 618.7,887.2 619.4,886.2 620.2,886.7 620.9,886.1 621.7,884.4 622.5,885.0 623.2,885.2 624.0,885.0 624.8,885.7 625.5,886.0 626.3,887.0 627.1,887.2 627.8,887.4 628.6,887.7 629.3,888.0 630.1,889.0 630.9,888.8 631.6,888.7 632.4,889.1 633.2,888.9 633.9,888.2 634.7,889.1 635.5,889.4 636.2,889.1 637.0,888.8 637.8,888.4 638.5,887.8 639.3,887.7 640.0,888.9 640.8,888.3 641.6,887.5 642.3,888.5 643.1,888.5 643.9,888.6 644.6,888.3 645.4,888.5 646.2,887.9 646.9,887.9 647.7,889.6 648.5,888.3 649.2,889.6 650.0,890.1 650.7,889.3 651.5,890.4 652.3,889.3 653.0,889.5 653.8,888.9 654.6,889.8 655.3,889.8 656.1,890.3 656.9,889.7 657.6,890.2 658.4,889.5 659.1,890.3 659.9,890.0 660.7,889.3 661.4,889.7 662.2,889.2 663.0,888.8 663.7,888.6 664.5,889.6 665.3,887.8 666.0,888.8 666.8,888.3 667.6,888.4 668.3,888.3 669.1,887.5 669.8,887.8 670.6,888.3 671.4,888.6 672.1,889.4 672.9,890.8 673.7,890.2 674.4,889.5 675.2,889.5 676.0,888.9 676.7,888.7 677.5,889.3 678.3,889.2 679.0,889.4 679.8,889.7 680.5,888.9 681.3,889.3 682.1,889.2 682.8,889.5 683.6,889.8 684.4,888.3 685.1,889.0 685.9,888.9 686.7,887.5 687.4,888.5 688.2,888.7 688.9,889.2 689.7,889.0 690.5,890.1 691.2,889.8 692.0,889.8 692.8,888.2 693.5,889.2 694.3,889.4 695.1,889.2 695.8,889.5 696.6,889.5 697.4,888.3 698.1,887.8 698.9,888.6 699.6,886.8 700.4,886.2 701.2,886.1 701.9,883.3 702.7,880.2 703.5,874.0 704.2,867.4 705.0,859.9 705.8,850.0 706.5,844.6 707.3,843.0 708.1,846.9 708.8,854.3 709.6,863.3 710.3,871.1 711.1,876.9 711.9,881.2 712.6,882.8 713.4,884.6 714.2,884.7 714.9,886.1 715.7,886.1 716.5,884.8 717.2,885.4 718.0,884.5 718.7,885.1 719.5,886.6 720.3,886.7 721.0,886.4 721.8,886.6 722.6,887.1 723.3,887.5 724.1,887.2 724.9,889.1 725.6,888.2 726.4,887.9"/>
<polyline stroke="#008000" stroke-width="3.3" points="726.4,887.9 727.2,887.9 727.9,887.8 728.7,887.5 729.4,887.5 730.2,886.9 731.0,887.1 731.7,886.9 732.5,886.9 733.3,887.2 734.0,887.8 734.8,887.4 735.6,888.0 736.3,888.5 737.1,889.2 737.9,888.7 738.6,889.0 739.4,888.7 740.1,888.7 740.9,888.2 741.7,888.4 742.4,889.3 743.2,889.2 744.0,889.1 744.7,889.3 745.5,889.6 746.3,889.4 747.0,889.3 747.8,889.1 748.5,888.6 749.3,888.9 750.1,889.0 750.8,889.2 751.6,889.6 752.4,889.3 753.1,889.9 753.9,889.7 754.7,889.9 755.4,889.5 756.2,889.5 757.0,889.8 757.7,889.9 758.5,890.0 759.2,889.2 760.0,889.6 760.8,889.3 761.5,889.4 762.3,889.1 763.1,890.1 763.8,889.7 764.6,889.3 765.4,889.6 766.1,889.4 766.9,889.6 767.7,890.2 768.4,890.0 769.2,889.7 769.9,890.3 770.7,890.6 771.5,890.4 772.2,890.3 773.0,890.1 773.8,890.6 774.5,889.9 775.3,889.6 776.1,889.6 776.8,889.8 777.6,890.1 778.3,889.3 779.1,889.7 779.9,889.7 780.6,889.7 781.4,889.4 782.2,889.6 782.9,889.6 783.7,889.7 784.5,889.5 785.2,889.1 786.0,889.3 786.8,889.0 787.5,889.3 788.3,889.5 789.0,889.4 789.8,889.3 790.6,889.1 791.3,889.6 792.1,889.7 792.9,889.6 793.6,889.9 794.4,889.4 795.2,890.1 795.9,889.2 796.7,889.4 797.5,889.2 798.2,889.9 799.0,890.0 799.7,890.4 800.5,889.6 801.3,889.6 802.0,888.6 802.8,888.9 803.6,889.6 804.3,889.6 805.1,890.2 805.9,889.8 806.6,890.1 807.4,889.8 808.1,889.1 808.9,889.7 809.7,889.6 810.4,889.4 811.2,889.5 812.0,889.7 812.7,889.6 813.5,890.1 814.3,890.3 815.0,889.5 815.8,890.3 816.6,890.0 817.3,890.0 818.1,890.0 818.8,889.8 819.6,890.1 820.4,889.8 821.1,889.9 821.9,889.4 822.7,889.9 823.4,889.8 824.2,889.9 825.0,890.3 825.7,890.5 826.5,890.2 827.2,889.8 828.0,889.4 828.8,889.3 829.5,889.7 830.3,889.8 831.1,890.0 831.8,889.6 832.6,889.5 833.4,889.3 834.1,889.9 834.9,889.4 835.7,889.8 836.4,889.2 837.2,889.1 837.9,889.3"/>
</g>
<g stroke="#111" stroke-width="1.2">
<line x1="442.2" y1="895.0" x2="442.2" y2="908.4"/><line x1="486.4" y1="895.0" x2="486.4" y2="908.4"/><line x1="625.4" y1="895.0" x2="625.4" y2="908.4"/><line x1="709.8" y1="895.0" x2="709.8" y2="908.4"/><line x1="735.0" y1="895.0" x2="735.0" y2="908.4"/><line x1="829.6" y1="895.0" x2="829.6" y2="908.4"/><line x1="430.6" y1="907.3" x2="430.6" y2="920.7"/><line x1="478.6" y1="907.3" x2="478.6" y2="920.7"/><line x1="495.1" y1="907.3" x2="495.1" y2="920.7"/><line x1="593.4" y1="907.3" x2="593.4" y2="920.7"/><line x1="633.9" y1="907.3" x2="633.9" y2="920.7"/><line x1="710.5" y1="907.3" x2="710.5" y2="920.7"/><line x1="738.0" y1="907.3" x2="738.0" y2="920.7"/><line x1="740.7" y1="907.3" x2="740.7" y2="920.7"/><line x1="747.1" y1="907.3" x2="747.1" y2="920.7"/><line x1="813.3" y1="907.3" x2="813.3" y2="920.7"/><line x1="302.2" y1="919.8" x2="302.2" y2="933.2"/><line x1="414.5" y1="919.8" x2="414.5" y2="933.2"/><line x1="424.1" y1="919.8" x2="424.1" y2="933.2"/><line x1="445.4" y1="919.8" x2="445.4" y2="933.2"/><line x1="452.2" y1="919.8" x2="452.2" y2="933.2"/><line x1="493.1" y1="919.8" x2="493.1" y2="933.2"/><line x1="544.0" y1="919.8" x2="544.0" y2="933.2"/><line x1="591.3" y1="919.8" x2="591.3" y2="933.2"/><line x1="602.2" y1="919.8" x2="602.2" y2="933.2"/><line x1="605.1" y1="919.8" x2="605.1" y2="933.2"/><line x1="628.2" y1="919.8" x2="628.2" y2="933.2"/><line x1="664.3" y1="919.8" x2="664.3" y2="933.2"/><line x1="676.7" y1="919.8" x2="676.7" y2="933.2"/><line x1="681.7" y1="919.8" x2="681.7" y2="933.2"/><line x1="693.6" y1="919.8" x2="693.6" y2="933.2"/><line x1="697.0" y1="919.8" x2="697.0" y2="933.2"/><line x1="722.2" y1="919.8" x2="722.2" y2="933.2"/><line x1="730.8" y1="919.8" x2="730.8" y2="933.2"/><line x1="741.4" y1="919.8" x2="741.4" y2="933.2"/><line x1="756.3" y1="919.8" x2="756.3" y2="933.2"/><line x1="789.5" y1="919.8" x2="789.5" y2="933.2"/><line x1="797.5" y1="919.8" x2="797.5" y2="933.2"/><line x1="800.3" y1="919.8" x2="800.3" y2="933.2"/><line x1="299.3" y1="932.2" x2="299.3" y2="945.6"/><line x1="321.0" y1="932.2" x2="321.0" y2="945.6"/><line x1="387.7" y1="932.2" x2="387.7" y2="945.6"/><line x1="427.3" y1="932.2" x2="427.3" y2="945.6"/><line x1="439.4" y1="932.2" x2="439.4" y2="945.6"/><line x1="483.5" y1="932.2" x2="483.5" y2="945.6"/><line x1="512.8" y1="932.2" x2="512.8" y2="945.6"/><line x1="522.0" y1="932.2" x2="522.0" y2="945.6"/><line x1="557.4" y1="932.2" x2="557.4" y2="945.6"/><line x1="582.3" y1="932.2" x2="582.3" y2="945.6"/><line x1="620.6" y1="932.2" x2="620.6" y2="945.6"/><line x1="642.5" y1="932.2" x2="642.5" y2="945.6"/><line x1="649.6" y1="932.2" x2="649.6" y2="945.6"/><line x1="677.5" y1="932.2" x2="677.5" y2="945.6"/><line x1="697.0" y1="932.2" x2="697.0" y2="945.6"/><line x1="703.8" y1="932.2" x2="703.8" y2="945.6"/><line x1="729.5" y1="932.2" x2="729.5" y2="945.6"/><line x1="747.4" y1="932.2" x2="747.4" y2="945.6"/><line x1="753.8" y1="932.2" x2="753.8" y2="945.6"/><line x1="777.6" y1="932.2" x2="777.6" y2="945.6"/><line x1="795.0" y1="932.2" x2="795.0" y2="945.6"/><line x1="823.0" y1="932.2" x2="823.0" y2="945.6"/>
</g>
<g stroke="#000" stroke-width="2.6" fill="none" stroke-linecap="square">
<path d="M835,335.5 L160.6,335.5 L160.6,955.7 L835,955.7"/>
</g>
<g stroke="#000" stroke-width="2.6">
<line x1="160.7" y1="955.7" x2="160.7" y2="968.0"/><line x1="224.4" y1="955.7" x2="224.4" y2="962.3"/><line x1="288.0" y1="955.7" x2="288.0" y2="968.0"/><line x1="351.7" y1="955.7" x2="351.7" y2="962.3"/><line x1="415.4" y1="955.7" x2="415.4" y2="968.0"/><line x1="479.1" y1="955.7" x2="479.1" y2="962.3"/><line x1="542.8" y1="955.7" x2="542.8" y2="968.0"/><line x1="606.4" y1="955.7" x2="606.4" y2="962.3"/><line x1="670.1" y1="955.7" x2="670.1" y2="968.0"/><line x1="733.8" y1="955.7" x2="733.8" y2="962.3"/><line x1="797.5" y1="955.7" x2="797.5" y2="968.0"/><line x1="861.1" y1="955.7" x2="861.1" y2="962.3"/>
</g>
<text transform="translate(151.16,999.80) scale(1,1.035)" font-size="33.6">0</text><path transform="translate(269.16,999.80) scale(0.01641,-0.01641)" d="M763 0H583V1147Q518 1085 412.5 1023Q307 961 223 930V1104Q374 1175 487 1276Q600 1377 647 1472H763Z" fill="#000"/><text transform="translate(287.85,999.80) scale(1,1.035)" font-size="33.6">0</text><text transform="translate(396.51,999.80) scale(1,1.035)" font-size="33.6">2</text><text transform="translate(415.20,999.80) scale(1,1.035)" font-size="33.6">0</text><text transform="translate(523.86,999.80) scale(1,1.035)" font-size="33.6">3</text><text transform="translate(542.55,999.80) scale(1,1.035)" font-size="33.6">0</text><text transform="translate(651.21,999.80) scale(1,1.035)" font-size="33.6">4</text><text transform="translate(669.90,999.80) scale(1,1.035)" font-size="33.6">0</text><text transform="translate(778.56,999.80) scale(1,1.035)" font-size="33.6">5</text><text transform="translate(797.25,999.80) scale(1,1.035)" font-size="33.6">0</text>
<text x="442.2" y="1056.8" font-size="36">2<tspan class="th" font-size="31.5" dx="1.5">θ</tspan><tspan dx="0.5" font-size="35.4"> (Intensity)</tspan></text>
<text transform="translate(130.6,658.4) rotate(-90)" font-size="35.4" text-anchor="middle">Intensity (arb. unit)</text>
<text x="467.2" y="391.2" font-size="35.4">MnTe<tspan font-size="20.8" dy="13.4">0.5</tspan><tspan dy="-13.4" dx="-0.3">Se</tspan><tspan font-size="20.8" dy="13.4">0.5</tspan></text>
<path transform="translate(820.88,428.70) scale(0.01489,-0.01489)" d="M763 0H583V1147Q518 1085 412.5 1023Q307 961 223 930V1104Q374 1175 487 1276Q600 1377 647 1472H763Z" fill="#000"/><text x="846.3" y="428.7" font-size="30.5">GPa</text><text transform="translate(816.20,525.10) scale(1,1.035)" font-size="30.5">4</text><text x="841.6" y="525.1" font-size="30.5">GPa</text><path transform="translate(808.88,613.60) scale(0.01489,-0.01489)" d="M763 0H583V1147Q518 1085 412.5 1023Q307 961 223 930V1104Q374 1175 487 1276Q600 1377 647 1472H763Z" fill="#000"/><text transform="translate(825.84,613.60) scale(1,1.035)" font-size="30.5">2</text><text x="851.3" y="613.6" font-size="30.5">GPa</text><path transform="translate(806.08,709.40) scale(0.01489,-0.01489)" d="M763 0H583V1147Q518 1085 412.5 1023Q307 961 223 930V1104Q374 1175 487 1276Q600 1377 647 1472H763Z" fill="#000"/><text transform="translate(823.04,709.40) scale(1,1.035)" font-size="30.5">5</text><text x="848.5" y="709.4" font-size="30.5">GPa</text><text transform="translate(806.57,797.40) scale(1,1.035)" font-size="30.5">2</text><text transform="translate(823.53,797.40) scale(1,1.035)" font-size="30.5">6</text><text x="849.0" y="797.4" font-size="30.5">GPa</text><text transform="translate(811.86,874.30) scale(1,1.035)" font-size="30.5">3</text><text transform="translate(828.82,874.30) scale(1,1.035)" font-size="30.5">0</text><text x="854.3" y="874.3" font-size="30.5">GPa</text>
</svg>
</body></html>
